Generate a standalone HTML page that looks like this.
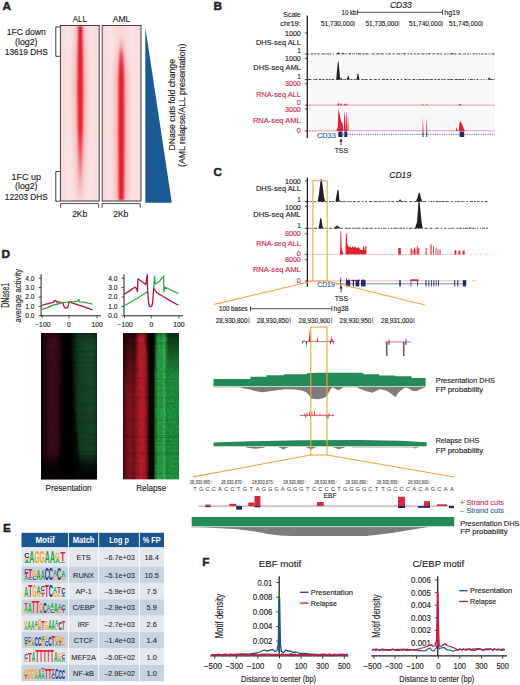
<!DOCTYPE html>
<html><head><meta charset="utf-8"><style>
html,body{margin:0;padding:0;background:#fff;}
svg{display:block;}
text{font-family:"Liberation Sans", sans-serif;}
</style></head><body>
<svg width="520" height="685" viewBox="0 0 520 685" font-family="Liberation Sans, sans-serif">
<rect width="520" height="685" fill="#fff"/>
<text x="2.60" y="9.80" font-size="11.8" font-weight="bold" stroke="#231f20" stroke-width="0.45" fill="#231f20">A</text>
<text x="79.80" y="21.81" font-size="8.5" text-anchor="middle" textLength="14" lengthAdjust="spacingAndGlyphs" stroke="#231f20" stroke-width="0.14" fill="#231f20">ALL</text>
<text x="121.50" y="21.81" font-size="8.5" text-anchor="middle" textLength="17.5" lengthAdjust="spacingAndGlyphs" stroke="#231f20" stroke-width="0.14" fill="#231f20">AML</text>
<defs>
<linearGradient id="bgA" x1="0" x2="1" y1="0" y2="0">
<stop offset="0" stop-color="#f8d8d8"/><stop offset="0.22" stop-color="#fbe3e3"/><stop offset="0.5" stop-color="#f8d6d6"/><stop offset="0.78" stop-color="#fbe3e3"/><stop offset="1" stop-color="#f8d8d8"/>
</linearGradient>
<linearGradient id="fadeAll" x1="0" x2="0" y1="0" y2="1">
<stop offset="0" stop-color="#c01828"/><stop offset="0.1" stop-color="#d81c2a"/><stop offset="0.3" stop-color="#e6202c"/><stop offset="0.6" stop-color="#e6202c"/><stop offset="0.75" stop-color="#ea5a64" /><stop offset="0.9" stop-color="#f2a0a8" /><stop offset="1" stop-color="#f7d0d3"/>
</linearGradient>
<linearGradient id="fadeAml" x1="0" x2="0" y1="0" y2="1">
<stop offset="0" stop-color="#f7d0d3"/><stop offset="0.05" stop-color="#f0a0a8"/><stop offset="0.12" stop-color="#e64050"/><stop offset="0.2" stop-color="#e4202e"/><stop offset="1" stop-color="#e41e2c"/>
</linearGradient>
<filter id="blur05" x="-50%" y="-5%" width="200%" height="110%"><feGaussianBlur stdDeviation="0.8"/></filter>
<filter id="blur1"><feGaussianBlur stdDeviation="0.8"/></filter>
<filter id="blur2" x="-100%" y="-10%" width="300%" height="120%"><feGaussianBlur stdDeviation="2.5"/></filter>
</defs>
<rect x="60.40" y="25.50" width="38.80" height="175.50" fill="url(#bgA)"/>
<rect x="102.20" y="25.50" width="38.80" height="175.50" fill="url(#bgA)"/>
<polygon points="85.24,26.00 87.06,60.00 88.10,90.00 86.80,129.00 85.50,150.00 84.20,169.00 82.64,185.00 81.60,193.00 80.82,198.00 79.78,198.00 79.00,193.00 77.96,185.00 76.40,169.00 75.10,150.00 73.80,129.00 72.50,90.00 73.54,60.00 75.36,26.00" fill="#e8404c" stroke="none" stroke-width="1" opacity="0.22" filter="url(#blur2)"/>
<polygon points="121.82,36.00 123.38,45.00 124.94,52.00 127.54,65.00 128.84,80.00 129.10,129.00 128.58,170.00 128.06,200.00 114.54,200.00 114.02,170.00 113.50,129.00 113.76,80.00 115.06,65.00 117.66,52.00 119.22,45.00 120.78,36.00" fill="#e8404c" stroke="none" stroke-width="1" opacity="0.22" filter="url(#blur2)"/>
<polygon points="82.20,26.00 82.90,60.00 83.30,90.00 82.80,129.00 82.30,150.00 81.80,169.00 81.20,185.00 80.80,193.00 80.50,198.00 80.10,198.00 79.80,193.00 79.40,185.00 78.80,169.00 78.30,150.00 77.80,129.00 77.30,90.00 77.70,60.00 78.40,26.00" fill="url(#fadeAll)" stroke="none" stroke-width="1" filter="url(#blur05)"/>
<polygon points="121.50,36.00 122.10,45.00 122.70,52.00 123.70,65.00 124.20,80.00 124.30,129.00 124.10,170.00 123.90,200.00 118.70,200.00 118.50,170.00 118.30,129.00 118.40,80.00 118.90,65.00 119.90,52.00 120.50,45.00 121.10,36.00" fill="url(#fadeAml)" stroke="none" stroke-width="1" filter="url(#blur05)"/>
<rect x="60.40" y="25.5" width="38.8" height="175.5" fill="none" stroke="#463f40" stroke-width="1"/>
<rect x="102.20" y="25.5" width="38.8" height="175.5" fill="none" stroke="#463f40" stroke-width="1"/>
<polyline points="60.60,207.80 60.60,203.60 98.60,203.60 98.60,207.80" fill="none" stroke="#231f20" stroke-width="0.8" stroke-linejoin="round"/>
<polyline points="102.00,207.80 102.00,203.60 140.20,203.60 140.20,207.80" fill="none" stroke="#231f20" stroke-width="0.8" stroke-linejoin="round"/>
<text x="79.70" y="216.62" font-size="8.4" text-anchor="middle" textLength="15" lengthAdjust="spacingAndGlyphs" stroke="#231f20" stroke-width="0.14" fill="#231f20">2Kb</text>
<text x="120.80" y="216.62" font-size="8.4" text-anchor="middle" textLength="15" lengthAdjust="spacingAndGlyphs" stroke="#231f20" stroke-width="0.14" fill="#231f20">2Kb</text>
<polyline points="59.80,26.90 55.80,26.90 55.80,56.30 59.80,56.30" fill="none" stroke="#231f20" stroke-width="0.9" stroke-linejoin="round"/>
<polyline points="59.80,171.50 55.80,171.50 55.80,201.20 59.80,201.20" fill="none" stroke="#231f20" stroke-width="0.9" stroke-linejoin="round"/>
<text x="26.30" y="34.69" font-size="8.3" text-anchor="middle" textLength="39.1" lengthAdjust="spacingAndGlyphs" stroke="#231f20" stroke-width="0.14" fill="#231f20">1FC down</text>
<text x="26.30" y="44.99" font-size="8.3" text-anchor="middle" textLength="22.5" lengthAdjust="spacingAndGlyphs" stroke="#231f20" stroke-width="0.14" fill="#231f20">(log2)</text>
<text x="26.30" y="54.99" font-size="8.3" text-anchor="middle" textLength="42.9" lengthAdjust="spacingAndGlyphs" stroke="#231f20" stroke-width="0.14" fill="#231f20">13619 DHS</text>
<text x="26.30" y="179.99" font-size="8.3" text-anchor="middle" textLength="29.5" lengthAdjust="spacingAndGlyphs" stroke="#231f20" stroke-width="0.14" fill="#231f20">1FC up</text>
<text x="26.30" y="189.49" font-size="8.3" text-anchor="middle" textLength="22.5" lengthAdjust="spacingAndGlyphs" stroke="#231f20" stroke-width="0.14" fill="#231f20">(log2)</text>
<text x="26.30" y="199.99" font-size="8.3" text-anchor="middle" textLength="42.9" lengthAdjust="spacingAndGlyphs" stroke="#231f20" stroke-width="0.14" fill="#231f20">12203 DHS</text>
<polygon points="145.30,27.00 145.30,202.80 171.80,202.80" fill="#1b5a94" stroke="none" stroke-width="1"/>
<text transform="translate(172.50,104.80) rotate(-90)" x="0" y="2.95" font-size="8.2" text-anchor="middle" textLength="91.5" lengthAdjust="spacingAndGlyphs" stroke="#231f20" stroke-width="0.14" fill="#231f20">DNase cuts fold change</text>
<text transform="translate(182.30,105.30) rotate(-90)" x="0" y="2.95" font-size="8.2" text-anchor="middle" textLength="123.4" lengthAdjust="spacingAndGlyphs" stroke="#231f20" stroke-width="0.14" fill="#231f20">(AML relapse/ALL presentation)</text>
<text x="213.60" y="9.80" font-size="11.8" font-weight="bold" stroke="#231f20" stroke-width="0.45" fill="#231f20">B</text>
<text x="300.80" y="16.93" font-size="7.3" text-anchor="end" textLength="17.6" lengthAdjust="spacingAndGlyphs" stroke="#231f20" stroke-width="0.14" fill="#231f20">Scale</text>
<text x="300.80" y="25.93" font-size="7.3" text-anchor="end" textLength="20.6" lengthAdjust="spacingAndGlyphs" stroke="#231f20" stroke-width="0.14" fill="#231f20">chr19:</text>
<text x="300.80" y="35.56" font-size="7.1" text-anchor="end" stroke="#231f20" stroke-width="0.14" fill="#231f20">1000</text>
<text x="300.80" y="44.93" font-size="7.3" text-anchor="end" textLength="44.8" lengthAdjust="spacingAndGlyphs" stroke="#231f20" stroke-width="0.14" fill="#231f20">DHS-seq ALL</text>
<text x="300.80" y="53.47" font-size="6.3" text-anchor="end" stroke="#231f20" stroke-width="0.14" fill="#231f20">1</text>
<text x="300.80" y="61.06" font-size="7.1" text-anchor="end" stroke="#231f20" stroke-width="0.14" fill="#231f20">1000</text>
<text x="300.80" y="69.63" font-size="7.3" text-anchor="end" textLength="47.5" lengthAdjust="spacingAndGlyphs" stroke="#231f20" stroke-width="0.14" fill="#231f20">DHS-seq AML</text>
<text x="300.80" y="79.07" font-size="6.3" text-anchor="end" stroke="#231f20" stroke-width="0.14" fill="#231f20">1</text>
<text x="300.80" y="86.36" font-size="7.1" text-anchor="end" stroke="#c92a4e" stroke-width="0.14" fill="#c92a4e">3000</text>
<text x="300.80" y="97.13" font-size="7.3" text-anchor="end" textLength="44.6" lengthAdjust="spacingAndGlyphs" stroke="#c92a4e" stroke-width="0.14" fill="#c92a4e">RNA-seq ALL</text>
<text x="300.80" y="105.06" font-size="7.1" text-anchor="end" stroke="#c92a4e" stroke-width="0.14" fill="#c92a4e">0</text>
<text x="300.80" y="111.56" font-size="7.1" text-anchor="end" stroke="#c92a4e" stroke-width="0.14" fill="#c92a4e">3000</text>
<text x="300.80" y="122.63" font-size="7.3" text-anchor="end" textLength="47.9" lengthAdjust="spacingAndGlyphs" stroke="#c92a4e" stroke-width="0.14" fill="#c92a4e">RNA-seq AML</text>
<text x="300.80" y="133.26" font-size="7.1" text-anchor="end" stroke="#c92a4e" stroke-width="0.14" fill="#c92a4e">0</text>
<rect x="308.00" y="54.00" width="187.00" height="77.00" fill="#f7f7f7"/>
<line x1="307.30" y1="15.60" x2="307.30" y2="138.00" stroke="#231f20" stroke-width="1.3"/>
<line x1="304.80" y1="33.00" x2="307.20" y2="33.00" stroke="#231f20" stroke-width="0.8"/>
<line x1="304.80" y1="54.10" x2="307.20" y2="54.10" stroke="#231f20" stroke-width="0.8"/>
<line x1="304.80" y1="58.30" x2="307.20" y2="58.30" stroke="#231f20" stroke-width="0.8"/>
<line x1="304.80" y1="79.60" x2="307.20" y2="79.60" stroke="#231f20" stroke-width="0.8"/>
<line x1="304.80" y1="83.80" x2="307.20" y2="83.80" stroke="#231f20" stroke-width="0.8"/>
<line x1="304.80" y1="105.20" x2="307.20" y2="105.20" stroke="#231f20" stroke-width="0.8"/>
<line x1="304.80" y1="109.00" x2="307.20" y2="109.00" stroke="#231f20" stroke-width="0.8"/>
<line x1="304.80" y1="131.00" x2="307.20" y2="131.00" stroke="#231f20" stroke-width="0.8"/>
<text x="400.80" y="8.10" font-size="8.6" text-anchor="middle" font-style="italic" textLength="21.8" lengthAdjust="spacingAndGlyphs" stroke="#231f20" stroke-width="0.14" fill="#231f20">CD33</text>
<text x="341.50" y="14.57" font-size="6.3" textLength="15" lengthAdjust="spacingAndGlyphs" stroke="#231f20" stroke-width="0.14" fill="#231f20">10 kb</text>
<line x1="357.50" y1="12.30" x2="442.50" y2="12.30" stroke="#231f20" stroke-width="0.8"/>
<line x1="357.50" y1="9.80" x2="357.50" y2="14.80" stroke="#231f20" stroke-width="0.8"/>
<line x1="442.50" y1="9.80" x2="442.50" y2="14.80" stroke="#231f20" stroke-width="0.8"/>
<text x="444.30" y="14.57" font-size="6.3" textLength="15.5" lengthAdjust="spacingAndGlyphs" stroke="#231f20" stroke-width="0.14" fill="#231f20">hg19</text>
<text x="321.00" y="26.18" font-size="6.9" textLength="32.5" lengthAdjust="spacingAndGlyphs" stroke="#231f20" stroke-width="0.14" fill="#231f20">51,730,000</text>
<line x1="354.30" y1="21.00" x2="354.30" y2="26.40" stroke="#777" stroke-width="0.9"/>
<text x="365.50" y="26.18" font-size="6.9" textLength="32.5" lengthAdjust="spacingAndGlyphs" stroke="#231f20" stroke-width="0.14" fill="#231f20">51,735,000</text>
<line x1="398.80" y1="21.00" x2="398.80" y2="26.40" stroke="#777" stroke-width="0.9"/>
<text x="409.00" y="26.18" font-size="6.9" textLength="32.5" lengthAdjust="spacingAndGlyphs" stroke="#231f20" stroke-width="0.14" fill="#231f20">51,740,000</text>
<line x1="442.30" y1="21.00" x2="442.30" y2="26.40" stroke="#777" stroke-width="0.9"/>
<text x="449.00" y="26.18" font-size="6.9" textLength="32.5" lengthAdjust="spacingAndGlyphs" stroke="#231f20" stroke-width="0.14" fill="#231f20">51,745,000</text>
<line x1="482.30" y1="21.00" x2="482.30" y2="26.40" stroke="#777" stroke-width="0.9"/>
<line x1="308.00" y1="53.90" x2="308.90" y2="53.90" stroke="#231f20" stroke-width="0.8"/>
<line x1="310.64" y1="53.90" x2="313.44" y2="53.90" stroke="#231f20" stroke-width="0.8"/>
<line x1="314.17" y1="53.90" x2="316.15" y2="53.90" stroke="#231f20" stroke-width="0.8"/>
<line x1="317.22" y1="53.90" x2="319.67" y2="53.90" stroke="#231f20" stroke-width="0.8"/>
<line x1="321.31" y1="53.90" x2="322.10" y2="53.90" stroke="#231f20" stroke-width="0.8"/>
<line x1="322.44" y1="53.90" x2="325.45" y2="53.90" stroke="#231f20" stroke-width="0.8"/>
<line x1="326.49" y1="53.90" x2="329.27" y2="53.90" stroke="#231f20" stroke-width="0.8"/>
<line x1="329.58" y1="53.90" x2="331.41" y2="53.90" stroke="#231f20" stroke-width="0.8"/>
<line x1="332.94" y1="53.90" x2="334.13" y2="53.90" stroke="#231f20" stroke-width="0.8"/>
<line x1="336.03" y1="53.90" x2="339.24" y2="53.90" stroke="#231f20" stroke-width="0.8"/>
<line x1="339.59" y1="53.90" x2="340.17" y2="53.90" stroke="#231f20" stroke-width="0.8"/>
<line x1="341.39" y1="53.90" x2="344.70" y2="53.90" stroke="#231f20" stroke-width="0.8"/>
<line x1="345.65" y1="53.90" x2="346.80" y2="53.90" stroke="#231f20" stroke-width="0.8"/>
<line x1="347.82" y1="53.90" x2="348.41" y2="53.90" stroke="#231f20" stroke-width="0.8"/>
<line x1="349.08" y1="53.90" x2="350.90" y2="53.90" stroke="#231f20" stroke-width="0.8"/>
<line x1="352.04" y1="53.90" x2="353.24" y2="53.90" stroke="#231f20" stroke-width="0.8"/>
<line x1="353.93" y1="53.90" x2="355.09" y2="53.90" stroke="#231f20" stroke-width="0.8"/>
<line x1="356.17" y1="53.90" x2="357.54" y2="53.90" stroke="#231f20" stroke-width="0.8"/>
<line x1="357.88" y1="53.90" x2="360.89" y2="53.90" stroke="#231f20" stroke-width="0.8"/>
<line x1="362.13" y1="53.90" x2="364.56" y2="53.90" stroke="#231f20" stroke-width="0.8"/>
<line x1="365.18" y1="53.90" x2="368.65" y2="53.90" stroke="#231f20" stroke-width="0.8"/>
<line x1="370.42" y1="53.90" x2="371.28" y2="53.90" stroke="#231f20" stroke-width="0.8"/>
<line x1="372.15" y1="53.90" x2="374.81" y2="53.90" stroke="#231f20" stroke-width="0.8"/>
<line x1="376.32" y1="53.90" x2="379.63" y2="53.90" stroke="#231f20" stroke-width="0.8"/>
<line x1="380.65" y1="53.90" x2="383.64" y2="53.90" stroke="#231f20" stroke-width="0.8"/>
<line x1="385.08" y1="53.90" x2="386.49" y2="53.90" stroke="#231f20" stroke-width="0.8"/>
<line x1="387.78" y1="53.90" x2="390.93" y2="53.90" stroke="#231f20" stroke-width="0.8"/>
<line x1="392.67" y1="53.90" x2="394.69" y2="53.90" stroke="#231f20" stroke-width="0.8"/>
<line x1="395.99" y1="53.90" x2="396.59" y2="53.90" stroke="#231f20" stroke-width="0.8"/>
<line x1="397.30" y1="53.90" x2="400.20" y2="53.90" stroke="#231f20" stroke-width="0.8"/>
<line x1="401.20" y1="53.90" x2="402.22" y2="53.90" stroke="#231f20" stroke-width="0.8"/>
<line x1="403.45" y1="53.90" x2="406.06" y2="53.90" stroke="#231f20" stroke-width="0.8"/>
<line x1="407.51" y1="53.90" x2="409.13" y2="53.90" stroke="#231f20" stroke-width="0.8"/>
<line x1="410.18" y1="53.90" x2="412.20" y2="53.90" stroke="#231f20" stroke-width="0.8"/>
<line x1="413.83" y1="53.90" x2="415.89" y2="53.90" stroke="#231f20" stroke-width="0.8"/>
<line x1="416.86" y1="53.90" x2="418.83" y2="53.90" stroke="#231f20" stroke-width="0.8"/>
<line x1="419.18" y1="53.90" x2="419.81" y2="53.90" stroke="#231f20" stroke-width="0.8"/>
<line x1="421.30" y1="53.90" x2="424.75" y2="53.90" stroke="#231f20" stroke-width="0.8"/>
<line x1="426.06" y1="53.90" x2="427.74" y2="53.90" stroke="#231f20" stroke-width="0.8"/>
<line x1="428.33" y1="53.90" x2="430.34" y2="53.90" stroke="#231f20" stroke-width="0.8"/>
<line x1="432.31" y1="53.90" x2="435.12" y2="53.90" stroke="#231f20" stroke-width="0.8"/>
<line x1="436.34" y1="53.90" x2="439.42" y2="53.90" stroke="#231f20" stroke-width="0.8"/>
<line x1="440.11" y1="53.90" x2="442.15" y2="53.90" stroke="#231f20" stroke-width="0.8"/>
<line x1="444.07" y1="53.90" x2="446.31" y2="53.90" stroke="#231f20" stroke-width="0.8"/>
<line x1="447.39" y1="53.90" x2="448.69" y2="53.90" stroke="#231f20" stroke-width="0.8"/>
<line x1="449.93" y1="53.90" x2="453.30" y2="53.90" stroke="#231f20" stroke-width="0.8"/>
<line x1="453.61" y1="53.90" x2="456.46" y2="53.90" stroke="#231f20" stroke-width="0.8"/>
<line x1="458.15" y1="53.90" x2="461.31" y2="53.90" stroke="#231f20" stroke-width="0.8"/>
<line x1="462.87" y1="53.90" x2="465.80" y2="53.90" stroke="#231f20" stroke-width="0.8"/>
<line x1="466.98" y1="53.90" x2="469.16" y2="53.90" stroke="#231f20" stroke-width="0.8"/>
<line x1="470.19" y1="53.90" x2="470.86" y2="53.90" stroke="#231f20" stroke-width="0.8"/>
<line x1="472.64" y1="53.90" x2="474.85" y2="53.90" stroke="#231f20" stroke-width="0.8"/>
<line x1="475.49" y1="53.90" x2="477.50" y2="53.90" stroke="#231f20" stroke-width="0.8"/>
<line x1="478.62" y1="53.90" x2="480.19" y2="53.90" stroke="#231f20" stroke-width="0.8"/>
<line x1="481.08" y1="53.90" x2="483.20" y2="53.90" stroke="#231f20" stroke-width="0.8"/>
<line x1="484.56" y1="53.90" x2="486.90" y2="53.90" stroke="#231f20" stroke-width="0.8"/>
<line x1="487.97" y1="53.90" x2="488.56" y2="53.90" stroke="#231f20" stroke-width="0.8"/>
<line x1="489.25" y1="53.90" x2="490.28" y2="53.90" stroke="#231f20" stroke-width="0.8"/>
<line x1="491.57" y1="53.90" x2="494.66" y2="53.90" stroke="#231f20" stroke-width="0.8"/>
<polygon points="337.00,53.90 338.12,52.62 338.50,52.40 338.88,52.62 340.00,53.90" fill="#231f20" stroke="none" stroke-width="1"/>
<polygon points="342.00,53.90 342.75,53.13 343.00,53.00 343.25,53.13 344.00,53.90" fill="#231f20" stroke="none" stroke-width="1"/>
<polygon points="349.00,53.90 349.75,53.13 350.00,53.00 350.25,53.13 351.00,53.90" fill="#231f20" stroke="none" stroke-width="1"/>
<polygon points="359.00,53.90 359.75,53.30 360.00,53.20 360.25,53.30 361.00,53.90" fill="#231f20" stroke="none" stroke-width="1"/>
<polygon points="403.00,53.90 403.75,53.30 404.00,53.20 404.25,53.30 405.00,53.90" fill="#231f20" stroke="none" stroke-width="1"/>
<polygon points="429.00,53.90 429.75,53.30 430.00,53.20 430.25,53.30 431.00,53.90" fill="#231f20" stroke="none" stroke-width="1"/>
<polygon points="451.00,53.90 451.75,53.30 452.00,53.20 452.25,53.30 453.00,53.90" fill="#231f20" stroke="none" stroke-width="1"/>
<line x1="308.00" y1="79.50" x2="311.37" y2="79.50" stroke="#231f20" stroke-width="0.8"/>
<line x1="313.28" y1="79.50" x2="313.95" y2="79.50" stroke="#231f20" stroke-width="0.8"/>
<line x1="314.39" y1="79.50" x2="317.40" y2="79.50" stroke="#231f20" stroke-width="0.8"/>
<line x1="318.95" y1="79.50" x2="321.46" y2="79.50" stroke="#231f20" stroke-width="0.8"/>
<line x1="322.28" y1="79.50" x2="324.60" y2="79.50" stroke="#231f20" stroke-width="0.8"/>
<line x1="325.93" y1="79.50" x2="328.18" y2="79.50" stroke="#231f20" stroke-width="0.8"/>
<line x1="328.75" y1="79.50" x2="330.54" y2="79.50" stroke="#231f20" stroke-width="0.8"/>
<line x1="331.51" y1="79.50" x2="334.18" y2="79.50" stroke="#231f20" stroke-width="0.8"/>
<line x1="336.17" y1="79.50" x2="339.52" y2="79.50" stroke="#231f20" stroke-width="0.8"/>
<line x1="340.74" y1="79.50" x2="342.58" y2="79.50" stroke="#231f20" stroke-width="0.8"/>
<line x1="343.33" y1="79.50" x2="343.94" y2="79.50" stroke="#231f20" stroke-width="0.8"/>
<line x1="344.29" y1="79.50" x2="346.18" y2="79.50" stroke="#231f20" stroke-width="0.8"/>
<line x1="347.02" y1="79.50" x2="348.66" y2="79.50" stroke="#231f20" stroke-width="0.8"/>
<line x1="350.48" y1="79.50" x2="352.56" y2="79.50" stroke="#231f20" stroke-width="0.8"/>
<line x1="353.81" y1="79.50" x2="355.02" y2="79.50" stroke="#231f20" stroke-width="0.8"/>
<line x1="355.36" y1="79.50" x2="356.83" y2="79.50" stroke="#231f20" stroke-width="0.8"/>
<line x1="357.36" y1="79.50" x2="359.40" y2="79.50" stroke="#231f20" stroke-width="0.8"/>
<line x1="361.39" y1="79.50" x2="363.92" y2="79.50" stroke="#231f20" stroke-width="0.8"/>
<line x1="364.53" y1="79.50" x2="367.71" y2="79.50" stroke="#231f20" stroke-width="0.8"/>
<line x1="369.36" y1="79.50" x2="372.06" y2="79.50" stroke="#231f20" stroke-width="0.8"/>
<line x1="373.91" y1="79.50" x2="376.69" y2="79.50" stroke="#231f20" stroke-width="0.8"/>
<line x1="378.34" y1="79.50" x2="379.90" y2="79.50" stroke="#231f20" stroke-width="0.8"/>
<line x1="381.87" y1="79.50" x2="385.25" y2="79.50" stroke="#231f20" stroke-width="0.8"/>
<line x1="385.83" y1="79.50" x2="388.59" y2="79.50" stroke="#231f20" stroke-width="0.8"/>
<line x1="390.10" y1="79.50" x2="391.99" y2="79.50" stroke="#231f20" stroke-width="0.8"/>
<line x1="393.19" y1="79.50" x2="395.16" y2="79.50" stroke="#231f20" stroke-width="0.8"/>
<line x1="397.03" y1="79.50" x2="399.03" y2="79.50" stroke="#231f20" stroke-width="0.8"/>
<line x1="400.75" y1="79.50" x2="402.31" y2="79.50" stroke="#231f20" stroke-width="0.8"/>
<line x1="404.11" y1="79.50" x2="407.31" y2="79.50" stroke="#231f20" stroke-width="0.8"/>
<line x1="408.39" y1="79.50" x2="410.60" y2="79.50" stroke="#231f20" stroke-width="0.8"/>
<line x1="412.46" y1="79.50" x2="415.13" y2="79.50" stroke="#231f20" stroke-width="0.8"/>
<line x1="416.26" y1="79.50" x2="417.42" y2="79.50" stroke="#231f20" stroke-width="0.8"/>
<line x1="418.28" y1="79.50" x2="420.88" y2="79.50" stroke="#231f20" stroke-width="0.8"/>
<line x1="421.46" y1="79.50" x2="424.68" y2="79.50" stroke="#231f20" stroke-width="0.8"/>
<line x1="425.44" y1="79.50" x2="428.67" y2="79.50" stroke="#231f20" stroke-width="0.8"/>
<line x1="429.50" y1="79.50" x2="432.87" y2="79.50" stroke="#231f20" stroke-width="0.8"/>
<line x1="434.37" y1="79.50" x2="436.38" y2="79.50" stroke="#231f20" stroke-width="0.8"/>
<line x1="437.56" y1="79.50" x2="440.02" y2="79.50" stroke="#231f20" stroke-width="0.8"/>
<line x1="441.32" y1="79.50" x2="442.75" y2="79.50" stroke="#231f20" stroke-width="0.8"/>
<line x1="443.41" y1="79.50" x2="445.44" y2="79.50" stroke="#231f20" stroke-width="0.8"/>
<line x1="447.33" y1="79.50" x2="449.70" y2="79.50" stroke="#231f20" stroke-width="0.8"/>
<line x1="450.13" y1="79.50" x2="453.09" y2="79.50" stroke="#231f20" stroke-width="0.8"/>
<line x1="454.62" y1="79.50" x2="457.85" y2="79.50" stroke="#231f20" stroke-width="0.8"/>
<line x1="458.47" y1="79.50" x2="461.21" y2="79.50" stroke="#231f20" stroke-width="0.8"/>
<line x1="461.61" y1="79.50" x2="464.06" y2="79.50" stroke="#231f20" stroke-width="0.8"/>
<line x1="464.83" y1="79.50" x2="466.01" y2="79.50" stroke="#231f20" stroke-width="0.8"/>
<line x1="467.80" y1="79.50" x2="468.62" y2="79.50" stroke="#231f20" stroke-width="0.8"/>
<line x1="469.80" y1="79.50" x2="472.87" y2="79.50" stroke="#231f20" stroke-width="0.8"/>
<line x1="473.58" y1="79.50" x2="474.71" y2="79.50" stroke="#231f20" stroke-width="0.8"/>
<line x1="476.51" y1="79.50" x2="478.28" y2="79.50" stroke="#231f20" stroke-width="0.8"/>
<line x1="479.80" y1="79.50" x2="480.39" y2="79.50" stroke="#231f20" stroke-width="0.8"/>
<line x1="481.31" y1="79.50" x2="482.32" y2="79.50" stroke="#231f20" stroke-width="0.8"/>
<line x1="483.77" y1="79.50" x2="484.52" y2="79.50" stroke="#231f20" stroke-width="0.8"/>
<line x1="486.44" y1="79.50" x2="487.02" y2="79.50" stroke="#231f20" stroke-width="0.8"/>
<line x1="488.56" y1="79.50" x2="489.12" y2="79.50" stroke="#231f20" stroke-width="0.8"/>
<line x1="489.85" y1="79.50" x2="492.79" y2="79.50" stroke="#231f20" stroke-width="0.8"/>
<line x1="493.36" y1="79.50" x2="494.41" y2="79.50" stroke="#231f20" stroke-width="0.8"/>
<polygon points="336.20,79.60 337.70,63.28 338.20,60.40 338.70,63.28 340.20,79.60" fill="#231f20" stroke="none" stroke-width="1"/>
<polygon points="340.00,79.60 340.75,77.81 341.00,77.50 341.25,77.81 342.00,79.60" fill="#231f20" stroke="none" stroke-width="1"/>
<polygon points="346.80,79.60 347.93,76.20 348.30,75.60 348.68,76.20 349.80,79.60" fill="#231f20" stroke="none" stroke-width="1"/>
<polygon points="356.50,79.60 357.62,74.24 358.00,73.30 358.38,74.24 359.50,79.60" fill="#231f20" stroke="none" stroke-width="1"/>
<polygon points="487.70,79.60 488.82,77.64 489.20,77.30 489.57,77.64 490.70,79.60" fill="#231f20" stroke="none" stroke-width="1"/>
<line x1="308.00" y1="105.10" x2="495.00" y2="105.10" stroke="#d9566c" stroke-width="0.55"/>
<polygon points="337.30,105.20 338.20,103.16 338.50,102.80 338.80,103.16 339.70,105.20" fill="#e3202d" stroke="none" stroke-width="1"/>
<polygon points="340.00,105.20 340.75,103.50 341.00,103.20 341.25,103.50 342.00,105.20" fill="#e3202d" stroke="none" stroke-width="1"/>
<polygon points="343.50,105.20 344.25,103.67 344.50,103.40 344.75,103.67 345.50,105.20" fill="#e3202d" stroke="none" stroke-width="1"/>
<polygon points="345.50,105.20 346.25,103.67 346.50,103.40 346.75,103.67 347.50,105.20" fill="#e3202d" stroke="none" stroke-width="1"/>
<line x1="308.00" y1="130.90" x2="495.00" y2="130.90" stroke="#d9566c" stroke-width="0.55"/>
<polygon points="336.50,131.00 337.80,127.00 338.40,108.50 339.50,113.00 341.00,121.00 342.60,124.00 343.30,131.00" fill="#e3202d" stroke="none" stroke-width="1"/>
<polygon points="343.80,131.00 344.30,111.20 345.20,118.00 345.80,131.00" fill="#e3202d" stroke="none" stroke-width="1"/>
<polygon points="346.00,131.00 346.40,111.30 347.20,118.00 347.60,131.00" fill="#e3202d" stroke="none" stroke-width="1"/>
<polygon points="347.90,131.00 348.30,115.00 349.20,131.00" fill="#e58a95" stroke="none" stroke-width="1"/>
<polygon points="422.40,131.00 422.90,117.00 423.40,131.00" fill="#e3202d" stroke="none" stroke-width="1"/>
<polygon points="426.20,131.00 426.70,117.00 427.20,131.00" fill="#e3202d" stroke="none" stroke-width="1"/>
<polygon points="455.80,131.00 456.50,127.00 457.40,131.00" fill="#e3202d" stroke="none" stroke-width="1"/>
<polygon points="458.60,131.00 459.60,122.50 460.40,121.20 461.60,123.00 463.50,128.00 465.00,131.00" fill="#e3202d" stroke="none" stroke-width="1"/>
<line x1="338" y1="134.3" x2="495" y2="134.3" stroke="#2a5ea8" stroke-width="0.8" stroke-dasharray="1.4 0.9"/>
<rect x="338.30" y="131.50" width="4.20" height="5.50" fill="#1f2a6e"/>
<rect x="344.30" y="131.50" width="3.00" height="5.50" fill="#1f2a6e"/>
<rect x="422.50" y="131.50" width="1.00" height="5.50" fill="#1f2a6e"/>
<rect x="426.20" y="131.50" width="1.00" height="5.50" fill="#1f2a6e"/>
<rect x="459.60" y="131.50" width="4.60" height="5.50" fill="#1f2a6e"/>
<text x="317.00" y="137.63" font-size="7.3" textLength="18.8" lengthAdjust="spacingAndGlyphs" stroke="#2a5ea8" stroke-width="0.14" fill="#2a5ea8">CD33</text>
<line x1="341.00" y1="145.50" x2="341.00" y2="140.50" stroke="#231f20" stroke-width="0.8"/>
<polygon points="339.30,141.60 341.00,138.60 342.70,141.60" fill="#231f20" stroke="none" stroke-width="1"/>
<text x="341.30" y="152.88" font-size="8.0" text-anchor="middle" textLength="13.3" lengthAdjust="spacingAndGlyphs" stroke="#231f20" stroke-width="0.14" fill="#231f20">TSS</text>
<polygon points="422.20,105.20 422.80,104.18 423.00,104.00 423.20,104.18 423.80,105.20" fill="#e3202d" stroke="none" stroke-width="1"/>
<polygon points="425.90,105.20 426.50,104.18 426.70,104.00 426.90,104.18 427.50,105.20" fill="#e3202d" stroke="none" stroke-width="1"/>
<polygon points="458.40,105.20 459.60,104.01 460.00,103.80 460.40,104.01 461.60,105.20" fill="#e3202d" stroke="none" stroke-width="1"/>
<text x="213.40" y="176.40" font-size="11.8" font-weight="bold" stroke="#231f20" stroke-width="0.45" fill="#231f20">C</text>
<text x="300.80" y="183.76" font-size="7.1" text-anchor="end" stroke="#231f20" stroke-width="0.14" fill="#231f20">1000</text>
<text x="300.80" y="190.63" font-size="7.3" text-anchor="end" textLength="44.8" lengthAdjust="spacingAndGlyphs" stroke="#231f20" stroke-width="0.14" fill="#231f20">DHS-seq ALL</text>
<text x="300.80" y="201.87" font-size="6.3" text-anchor="end" stroke="#231f20" stroke-width="0.14" fill="#231f20">1</text>
<text x="300.80" y="209.66" font-size="7.1" text-anchor="end" stroke="#231f20" stroke-width="0.14" fill="#231f20">1000</text>
<text x="300.80" y="217.43" font-size="7.3" text-anchor="end" textLength="47.5" lengthAdjust="spacingAndGlyphs" stroke="#231f20" stroke-width="0.14" fill="#231f20">DHS-seq AML</text>
<text x="300.80" y="228.17" font-size="6.3" text-anchor="end" stroke="#231f20" stroke-width="0.14" fill="#231f20">1</text>
<text x="300.80" y="236.16" font-size="7.1" text-anchor="end" stroke="#c92a4e" stroke-width="0.14" fill="#c92a4e">8000</text>
<text x="300.80" y="245.83" font-size="7.3" text-anchor="end" textLength="44.6" lengthAdjust="spacingAndGlyphs" stroke="#c92a4e" stroke-width="0.14" fill="#c92a4e">RNA-seq ALL</text>
<text x="300.80" y="255.86" font-size="7.1" text-anchor="end" stroke="#c92a4e" stroke-width="0.14" fill="#c92a4e">0</text>
<text x="300.80" y="262.36" font-size="7.1" text-anchor="end" stroke="#c92a4e" stroke-width="0.14" fill="#c92a4e">8000</text>
<text x="300.80" y="272.43" font-size="7.3" text-anchor="end" textLength="47.9" lengthAdjust="spacingAndGlyphs" stroke="#c92a4e" stroke-width="0.14" fill="#c92a4e">RNA-seq AML</text>
<text x="300.80" y="282.86" font-size="7.1" text-anchor="end" stroke="#c92a4e" stroke-width="0.14" fill="#c92a4e">0</text>
<line x1="307.40" y1="177.50" x2="307.40" y2="286.80" stroke="#231f20" stroke-width="1.3"/>
<line x1="304.90" y1="181.00" x2="307.30" y2="181.00" stroke="#231f20" stroke-width="0.8"/>
<line x1="304.90" y1="201.60" x2="307.30" y2="201.60" stroke="#231f20" stroke-width="0.8"/>
<line x1="304.90" y1="206.30" x2="307.30" y2="206.30" stroke="#231f20" stroke-width="0.8"/>
<line x1="304.90" y1="228.30" x2="307.30" y2="228.30" stroke="#231f20" stroke-width="0.8"/>
<line x1="304.90" y1="233.80" x2="307.30" y2="233.80" stroke="#231f20" stroke-width="0.8"/>
<line x1="304.90" y1="254.40" x2="307.30" y2="254.40" stroke="#231f20" stroke-width="0.8"/>
<line x1="304.90" y1="259.70" x2="307.30" y2="259.70" stroke="#231f20" stroke-width="0.8"/>
<line x1="304.90" y1="281.00" x2="307.30" y2="281.00" stroke="#231f20" stroke-width="0.8"/>
<text x="400.20" y="177.50" font-size="8.6" text-anchor="middle" font-style="italic" textLength="22" lengthAdjust="spacingAndGlyphs" stroke="#231f20" stroke-width="0.14" fill="#231f20">CD19</text>
<line x1="308.00" y1="201.60" x2="309.21" y2="201.60" stroke="#231f20" stroke-width="0.8"/>
<line x1="310.44" y1="201.60" x2="312.05" y2="201.60" stroke="#231f20" stroke-width="0.8"/>
<line x1="313.38" y1="201.60" x2="315.75" y2="201.60" stroke="#231f20" stroke-width="0.8"/>
<line x1="316.16" y1="201.60" x2="316.70" y2="201.60" stroke="#231f20" stroke-width="0.8"/>
<line x1="318.43" y1="201.60" x2="319.71" y2="201.60" stroke="#231f20" stroke-width="0.8"/>
<line x1="320.40" y1="201.60" x2="323.89" y2="201.60" stroke="#231f20" stroke-width="0.8"/>
<line x1="324.99" y1="201.60" x2="328.00" y2="201.60" stroke="#231f20" stroke-width="0.8"/>
<line x1="329.11" y1="201.60" x2="331.53" y2="201.60" stroke="#231f20" stroke-width="0.8"/>
<line x1="332.08" y1="201.60" x2="334.49" y2="201.60" stroke="#231f20" stroke-width="0.8"/>
<line x1="336.26" y1="201.60" x2="338.33" y2="201.60" stroke="#231f20" stroke-width="0.8"/>
<line x1="339.89" y1="201.60" x2="342.41" y2="201.60" stroke="#231f20" stroke-width="0.8"/>
<line x1="342.82" y1="201.60" x2="345.59" y2="201.60" stroke="#231f20" stroke-width="0.8"/>
<line x1="346.90" y1="201.60" x2="348.30" y2="201.60" stroke="#231f20" stroke-width="0.8"/>
<line x1="348.65" y1="201.60" x2="351.75" y2="201.60" stroke="#231f20" stroke-width="0.8"/>
<line x1="352.85" y1="201.60" x2="355.51" y2="201.60" stroke="#231f20" stroke-width="0.8"/>
<line x1="357.30" y1="201.60" x2="359.94" y2="201.60" stroke="#231f20" stroke-width="0.8"/>
<line x1="361.81" y1="201.60" x2="363.50" y2="201.60" stroke="#231f20" stroke-width="0.8"/>
<line x1="365.16" y1="201.60" x2="366.99" y2="201.60" stroke="#231f20" stroke-width="0.8"/>
<line x1="368.88" y1="201.60" x2="372.02" y2="201.60" stroke="#231f20" stroke-width="0.8"/>
<line x1="372.48" y1="201.60" x2="373.39" y2="201.60" stroke="#231f20" stroke-width="0.8"/>
<line x1="374.06" y1="201.60" x2="377.46" y2="201.60" stroke="#231f20" stroke-width="0.8"/>
<line x1="378.50" y1="201.60" x2="380.88" y2="201.60" stroke="#231f20" stroke-width="0.8"/>
<line x1="381.69" y1="201.60" x2="383.71" y2="201.60" stroke="#231f20" stroke-width="0.8"/>
<line x1="384.67" y1="201.60" x2="386.22" y2="201.60" stroke="#231f20" stroke-width="0.8"/>
<line x1="387.52" y1="201.60" x2="389.77" y2="201.60" stroke="#231f20" stroke-width="0.8"/>
<line x1="391.61" y1="201.60" x2="394.15" y2="201.60" stroke="#231f20" stroke-width="0.8"/>
<line x1="396.03" y1="201.60" x2="399.10" y2="201.60" stroke="#231f20" stroke-width="0.8"/>
<line x1="401.08" y1="201.60" x2="403.60" y2="201.60" stroke="#231f20" stroke-width="0.8"/>
<line x1="404.18" y1="201.60" x2="407.26" y2="201.60" stroke="#231f20" stroke-width="0.8"/>
<line x1="409.20" y1="201.60" x2="412.41" y2="201.60" stroke="#231f20" stroke-width="0.8"/>
<line x1="413.68" y1="201.60" x2="416.32" y2="201.60" stroke="#231f20" stroke-width="0.8"/>
<line x1="416.98" y1="201.60" x2="419.97" y2="201.60" stroke="#231f20" stroke-width="0.8"/>
<line x1="421.25" y1="201.60" x2="422.60" y2="201.60" stroke="#231f20" stroke-width="0.8"/>
<line x1="423.01" y1="201.60" x2="426.07" y2="201.60" stroke="#231f20" stroke-width="0.8"/>
<line x1="428.06" y1="201.60" x2="428.82" y2="201.60" stroke="#231f20" stroke-width="0.8"/>
<line x1="430.48" y1="201.60" x2="432.21" y2="201.60" stroke="#231f20" stroke-width="0.8"/>
<line x1="432.77" y1="201.60" x2="434.15" y2="201.60" stroke="#231f20" stroke-width="0.8"/>
<line x1="435.76" y1="201.60" x2="438.88" y2="201.60" stroke="#231f20" stroke-width="0.8"/>
<line x1="439.25" y1="201.60" x2="441.60" y2="201.60" stroke="#231f20" stroke-width="0.8"/>
<line x1="441.97" y1="201.60" x2="444.63" y2="201.60" stroke="#231f20" stroke-width="0.8"/>
<line x1="445.49" y1="201.60" x2="448.63" y2="201.60" stroke="#231f20" stroke-width="0.8"/>
<line x1="450.60" y1="201.60" x2="452.62" y2="201.60" stroke="#231f20" stroke-width="0.8"/>
<line x1="454.61" y1="201.60" x2="456.04" y2="201.60" stroke="#231f20" stroke-width="0.8"/>
<line x1="456.47" y1="201.60" x2="458.77" y2="201.60" stroke="#231f20" stroke-width="0.8"/>
<line x1="459.13" y1="201.60" x2="460.22" y2="201.60" stroke="#231f20" stroke-width="0.8"/>
<line x1="461.21" y1="201.60" x2="463.54" y2="201.60" stroke="#231f20" stroke-width="0.8"/>
<line x1="464.11" y1="201.60" x2="464.74" y2="201.60" stroke="#231f20" stroke-width="0.8"/>
<line x1="466.51" y1="201.60" x2="467.95" y2="201.60" stroke="#231f20" stroke-width="0.8"/>
<line x1="469.88" y1="201.60" x2="473.07" y2="201.60" stroke="#231f20" stroke-width="0.8"/>
<line x1="474.01" y1="201.60" x2="475.90" y2="201.60" stroke="#231f20" stroke-width="0.8"/>
<line x1="477.08" y1="201.60" x2="479.51" y2="201.60" stroke="#231f20" stroke-width="0.8"/>
<line x1="480.82" y1="201.60" x2="483.00" y2="201.60" stroke="#231f20" stroke-width="0.8"/>
<line x1="484.36" y1="201.60" x2="487.68" y2="201.60" stroke="#231f20" stroke-width="0.8"/>
<polygon points="317.60,201.60 319.00,194.00 320.60,179.80 321.20,178.80 321.80,180.00 324.07,197.04 325.30,201.60" fill="#231f20" stroke="none" stroke-width="1"/>
<polygon points="335.40,201.60 337.40,190.50 338.00,189.50 338.60,190.70 339.33,199.18 339.90,201.60" fill="#231f20" stroke="none" stroke-width="1"/>
<polygon points="398.50,201.60 399.50,200.00 400.10,199.00 400.70,200.20 401.43,201.08 402.00,201.60" fill="#231f20" stroke="none" stroke-width="1"/>
<polygon points="415.90,201.60 417.50,197.50 418.70,193.20 419.30,192.20 419.90,193.40 421.47,199.72 422.40,201.60" fill="#231f20" stroke="none" stroke-width="1"/>
<line x1="308.00" y1="228.30" x2="309.21" y2="228.30" stroke="#231f20" stroke-width="0.8"/>
<line x1="309.68" y1="228.30" x2="311.37" y2="228.30" stroke="#231f20" stroke-width="0.8"/>
<line x1="311.94" y1="228.30" x2="312.63" y2="228.30" stroke="#231f20" stroke-width="0.8"/>
<line x1="313.62" y1="228.30" x2="316.87" y2="228.30" stroke="#231f20" stroke-width="0.8"/>
<line x1="318.53" y1="228.30" x2="321.33" y2="228.30" stroke="#231f20" stroke-width="0.8"/>
<line x1="322.00" y1="228.30" x2="324.11" y2="228.30" stroke="#231f20" stroke-width="0.8"/>
<line x1="324.89" y1="228.30" x2="325.90" y2="228.30" stroke="#231f20" stroke-width="0.8"/>
<line x1="326.38" y1="228.30" x2="327.53" y2="228.30" stroke="#231f20" stroke-width="0.8"/>
<line x1="329.40" y1="228.30" x2="332.39" y2="228.30" stroke="#231f20" stroke-width="0.8"/>
<line x1="334.06" y1="228.30" x2="336.96" y2="228.30" stroke="#231f20" stroke-width="0.8"/>
<line x1="337.59" y1="228.30" x2="339.02" y2="228.30" stroke="#231f20" stroke-width="0.8"/>
<line x1="340.39" y1="228.30" x2="343.08" y2="228.30" stroke="#231f20" stroke-width="0.8"/>
<line x1="344.84" y1="228.30" x2="347.98" y2="228.30" stroke="#231f20" stroke-width="0.8"/>
<line x1="348.42" y1="228.30" x2="350.74" y2="228.30" stroke="#231f20" stroke-width="0.8"/>
<line x1="352.18" y1="228.30" x2="354.20" y2="228.30" stroke="#231f20" stroke-width="0.8"/>
<line x1="354.80" y1="228.30" x2="356.72" y2="228.30" stroke="#231f20" stroke-width="0.8"/>
<line x1="357.18" y1="228.30" x2="360.48" y2="228.30" stroke="#231f20" stroke-width="0.8"/>
<line x1="362.25" y1="228.30" x2="364.39" y2="228.30" stroke="#231f20" stroke-width="0.8"/>
<line x1="365.20" y1="228.30" x2="368.43" y2="228.30" stroke="#231f20" stroke-width="0.8"/>
<line x1="369.70" y1="228.30" x2="372.85" y2="228.30" stroke="#231f20" stroke-width="0.8"/>
<line x1="374.59" y1="228.30" x2="376.62" y2="228.30" stroke="#231f20" stroke-width="0.8"/>
<line x1="377.62" y1="228.30" x2="379.92" y2="228.30" stroke="#231f20" stroke-width="0.8"/>
<line x1="380.95" y1="228.30" x2="381.93" y2="228.30" stroke="#231f20" stroke-width="0.8"/>
<line x1="382.75" y1="228.30" x2="385.69" y2="228.30" stroke="#231f20" stroke-width="0.8"/>
<line x1="386.06" y1="228.30" x2="386.70" y2="228.30" stroke="#231f20" stroke-width="0.8"/>
<line x1="388.07" y1="228.30" x2="389.41" y2="228.30" stroke="#231f20" stroke-width="0.8"/>
<line x1="390.62" y1="228.30" x2="392.53" y2="228.30" stroke="#231f20" stroke-width="0.8"/>
<line x1="393.42" y1="228.30" x2="396.91" y2="228.30" stroke="#231f20" stroke-width="0.8"/>
<line x1="397.54" y1="228.30" x2="399.28" y2="228.30" stroke="#231f20" stroke-width="0.8"/>
<line x1="399.92" y1="228.30" x2="402.32" y2="228.30" stroke="#231f20" stroke-width="0.8"/>
<line x1="403.09" y1="228.30" x2="404.66" y2="228.30" stroke="#231f20" stroke-width="0.8"/>
<line x1="406.23" y1="228.30" x2="407.69" y2="228.30" stroke="#231f20" stroke-width="0.8"/>
<line x1="408.94" y1="228.30" x2="412.15" y2="228.30" stroke="#231f20" stroke-width="0.8"/>
<line x1="412.62" y1="228.30" x2="413.31" y2="228.30" stroke="#231f20" stroke-width="0.8"/>
<line x1="414.00" y1="228.30" x2="416.79" y2="228.30" stroke="#231f20" stroke-width="0.8"/>
<line x1="418.14" y1="228.30" x2="419.35" y2="228.30" stroke="#231f20" stroke-width="0.8"/>
<line x1="420.21" y1="228.30" x2="421.25" y2="228.30" stroke="#231f20" stroke-width="0.8"/>
<line x1="422.33" y1="228.30" x2="422.96" y2="228.30" stroke="#231f20" stroke-width="0.8"/>
<line x1="424.44" y1="228.30" x2="427.63" y2="228.30" stroke="#231f20" stroke-width="0.8"/>
<line x1="429.55" y1="228.30" x2="432.26" y2="228.30" stroke="#231f20" stroke-width="0.8"/>
<line x1="434.19" y1="228.30" x2="434.74" y2="228.30" stroke="#231f20" stroke-width="0.8"/>
<line x1="435.53" y1="228.30" x2="438.93" y2="228.30" stroke="#231f20" stroke-width="0.8"/>
<line x1="440.55" y1="228.30" x2="442.28" y2="228.30" stroke="#231f20" stroke-width="0.8"/>
<line x1="444.18" y1="228.30" x2="446.55" y2="228.30" stroke="#231f20" stroke-width="0.8"/>
<line x1="448.24" y1="228.30" x2="449.62" y2="228.30" stroke="#231f20" stroke-width="0.8"/>
<line x1="450.24" y1="228.30" x2="452.07" y2="228.30" stroke="#231f20" stroke-width="0.8"/>
<line x1="452.61" y1="228.30" x2="454.25" y2="228.30" stroke="#231f20" stroke-width="0.8"/>
<line x1="456.19" y1="228.30" x2="457.68" y2="228.30" stroke="#231f20" stroke-width="0.8"/>
<line x1="458.00" y1="228.30" x2="458.63" y2="228.30" stroke="#231f20" stroke-width="0.8"/>
<line x1="459.22" y1="228.30" x2="462.07" y2="228.30" stroke="#231f20" stroke-width="0.8"/>
<line x1="462.99" y1="228.30" x2="464.36" y2="228.30" stroke="#231f20" stroke-width="0.8"/>
<line x1="464.82" y1="228.30" x2="468.27" y2="228.30" stroke="#231f20" stroke-width="0.8"/>
<line x1="469.29" y1="228.30" x2="470.41" y2="228.30" stroke="#231f20" stroke-width="0.8"/>
<line x1="470.81" y1="228.30" x2="471.48" y2="228.30" stroke="#231f20" stroke-width="0.8"/>
<line x1="472.07" y1="228.30" x2="474.60" y2="228.30" stroke="#231f20" stroke-width="0.8"/>
<line x1="475.15" y1="228.30" x2="475.77" y2="228.30" stroke="#231f20" stroke-width="0.8"/>
<line x1="476.91" y1="228.30" x2="478.16" y2="228.30" stroke="#231f20" stroke-width="0.8"/>
<line x1="480.15" y1="228.30" x2="481.02" y2="228.30" stroke="#231f20" stroke-width="0.8"/>
<line x1="482.22" y1="228.30" x2="485.04" y2="228.30" stroke="#231f20" stroke-width="0.8"/>
<line x1="486.04" y1="228.30" x2="488.00" y2="228.30" stroke="#231f20" stroke-width="0.8"/>
<polygon points="318.60,228.30 320.20,218.80 320.80,217.80 321.40,219.00 322.48,226.20 323.20,228.30" fill="#231f20" stroke="none" stroke-width="1"/>
<polygon points="333.50,228.30 336.60,226.00 337.20,225.00 337.80,226.20 340.21,227.64 341.50,228.30" fill="#231f20" stroke="none" stroke-width="1"/>
<polygon points="415.00,228.30 417.00,222.00 418.50,202.60 419.10,201.60 419.70,202.80 421.69,222.96 422.80,228.30" fill="#231f20" stroke="none" stroke-width="1"/>
<polygon points="468.00,228.30 469.40,227.80 470.00,226.80 470.60,228.00 471.40,228.00 472.00,228.30" fill="#231f20" stroke="none" stroke-width="1"/>
<line x1="308.00" y1="254.40" x2="340.00" y2="254.40" stroke="#ee9aa3" stroke-width="0.6"/>
<line x1="465" y1="254.4" x2="496" y2="254.4" stroke="#ee9aa3" stroke-width="0.6" stroke-dasharray="2 3"/>
<polygon points="340.10,254.60 340.50,231.20 341.30,231.50 341.60,248.00 342.50,251.00 343.50,254.60" fill="#e3202d" stroke="none" stroke-width="1"/>
<polygon points="345.50,254.60 345.80,232.70 346.60,233.50 347.20,243.00 348.50,247.00 350.00,246.50 351.50,248.00 352.50,246.20 354.00,247.50 355.50,246.80 356.50,248.50 358.00,247.00 359.50,248.50 361.00,250.00 362.80,250.00 363.30,246.00 364.30,246.00 364.60,250.00 365.30,250.00 365.50,245.80 366.40,246.00 366.50,254.60" fill="#e3202d" stroke="none" stroke-width="1"/>
<line x1="343.50" y1="254.40" x2="345.50" y2="254.40" stroke="#ee9aa3" stroke-width="0.6"/>
<line x1="366.50" y1="254.40" x2="465.00" y2="254.40" stroke="#ee9aa3" stroke-width="0.6"/>
<rect x="398.30" y="248.00" width="2.50" height="6.60" fill="#e3202d"/>
<rect x="410.60" y="248.50" width="1.20" height="6.10" fill="#e3202d"/>
<rect x="412.50" y="249.80" width="1.00" height="4.80" fill="#e3202d"/>
<rect x="414.00" y="247.40" width="1.00" height="7.20" fill="#e3202d"/>
<rect x="415.50" y="248.80" width="0.80" height="5.80" fill="#e3202d"/>
<rect x="416.80" y="246.50" width="1.00" height="8.10" fill="#e3202d"/>
<rect x="418.20" y="248.00" width="1.00" height="6.60" fill="#e3202d"/>
<rect x="425.60" y="248.00" width="1.00" height="6.60" fill="#e3202d"/>
<rect x="430.50" y="244.40" width="1.10" height="10.20" fill="#e3202d"/>
<rect x="433.20" y="246.20" width="0.80" height="8.40" fill="#e3202d"/>
<rect x="435.60" y="248.00" width="0.80" height="6.60" fill="#e3202d"/>
<rect x="437.60" y="249.00" width="0.80" height="5.60" fill="#e3202d"/>
<rect x="439.60" y="249.50" width="1.00" height="5.10" fill="#e3202d"/>
<rect x="454.60" y="250.30" width="1.80" height="4.30" fill="#e3202d"/>
<rect x="458.50" y="250.50" width="1.80" height="4.10" fill="#e3202d"/>
<rect x="462.60" y="250.50" width="2.00" height="4.10" fill="#e3202d"/>
<line x1="308.00" y1="280.80" x2="467.00" y2="280.80" stroke="#ee9aa3" stroke-width="0.7"/>
<line x1="472.00" y1="280.80" x2="476.00" y2="280.80" stroke="#ee9aa3" stroke-width="0.7"/>
<rect x="340.30" y="277.50" width="1.00" height="3.50" fill="#e3202d"/>
<rect x="346.00" y="278.50" width="1.00" height="2.50" fill="#e3202d"/>
<rect x="348.00" y="279.50" width="2.00" height="1.50" fill="#e3202d"/>
<rect x="351.00" y="279.80" width="5.00" height="1.20" fill="#e3202d"/>
<rect x="357.00" y="279.60" width="3.00" height="1.40" fill="#e3202d"/>
<rect x="361.00" y="279.60" width="4.00" height="1.40" fill="#e3202d"/>
<rect x="410.50" y="279.30" width="8.00" height="1.70" fill="#e3202d"/>
<line x1="335.80" y1="283.80" x2="466.00" y2="283.80" stroke="#2a5ea8" stroke-width="0.7"/>
<rect x="340.20" y="280.20" width="0.80" height="6.20" fill="#1f2a6e"/>
<rect x="346.00" y="280.20" width="4.20" height="6.20" fill="#1f2a6e"/>
<rect x="352.80" y="280.20" width="1.20" height="6.20" fill="#1f2a6e"/>
<rect x="355.60" y="280.20" width="3.60" height="6.20" fill="#1f2a6e"/>
<rect x="361.00" y="280.20" width="4.60" height="6.20" fill="#1f2a6e"/>
<rect x="399.30" y="280.20" width="1.50" height="6.20" fill="#1f2a6e"/>
<rect x="410.60" y="280.20" width="0.70" height="6.20" fill="#1f2a6e"/>
<rect x="417.30" y="280.20" width="0.70" height="6.20" fill="#1f2a6e"/>
<rect x="425.50" y="280.20" width="1.00" height="6.20" fill="#1f2a6e"/>
<rect x="428.50" y="280.20" width="0.80" height="6.20" fill="#1f2a6e"/>
<rect x="431.00" y="280.20" width="0.80" height="6.20" fill="#1f2a6e"/>
<rect x="433.50" y="280.20" width="0.80" height="6.20" fill="#1f2a6e"/>
<rect x="435.80" y="280.20" width="0.70" height="6.20" fill="#1f2a6e"/>
<rect x="438.00" y="280.20" width="0.80" height="6.20" fill="#1f2a6e"/>
<rect x="454.20" y="280.20" width="1.00" height="6.20" fill="#1f2a6e"/>
<rect x="457.30" y="280.20" width="1.00" height="6.20" fill="#1f2a6e"/>
<rect x="462.80" y="280.20" width="3.40" height="6.20" fill="#1f2a6e"/>
<text x="317.20" y="286.93" font-size="7.3" textLength="17.5" lengthAdjust="spacingAndGlyphs" stroke="#2a5ea8" stroke-width="0.14" fill="#2a5ea8">CD19</text>
<line x1="341.10" y1="292.50" x2="341.10" y2="287.50" stroke="#231f20" stroke-width="0.8"/>
<polygon points="339.40,288.60 341.10,285.60 342.80,288.60" fill="#231f20" stroke="none" stroke-width="1"/>
<text x="341.30" y="301.38" font-size="8.0" text-anchor="middle" textLength="13.3" lengthAdjust="spacingAndGlyphs" stroke="#231f20" stroke-width="0.14" fill="#231f20">TSS</text>
<rect x="312.9" y="180.8" width="14.3" height="100.2" fill="none" stroke="#f2a33a" stroke-width="1.1"/>
<line x1="312.90" y1="281.00" x2="214.20" y2="304.40" stroke="#f2a33a" stroke-width="1.1"/>
<line x1="327.20" y1="281.00" x2="425.00" y2="305.00" stroke="#f2a33a" stroke-width="1.1"/>
<text x="219.00" y="311.17" font-size="6.3" textLength="28.6" lengthAdjust="spacingAndGlyphs" stroke="#231f20" stroke-width="0.14" fill="#231f20">100 bases</text>
<line x1="250.50" y1="308.70" x2="331.80" y2="308.70" stroke="#231f20" stroke-width="0.8"/>
<line x1="250.50" y1="306.20" x2="250.50" y2="311.20" stroke="#231f20" stroke-width="0.8"/>
<line x1="331.80" y1="306.20" x2="331.80" y2="311.20" stroke="#231f20" stroke-width="0.8"/>
<text x="333.60" y="310.95" font-size="6.8" textLength="15" lengthAdjust="spacingAndGlyphs" stroke="#231f20" stroke-width="0.14" fill="#231f20">hg38</text>
<text x="215.80" y="322.88" font-size="6.9" textLength="31.8" lengthAdjust="spacingAndGlyphs" stroke="#231f20" stroke-width="0.14" fill="#231f20">28,930,800</text>
<line x1="249.00" y1="317.60" x2="249.00" y2="323.20" stroke="#777" stroke-width="0.9"/>
<text x="257.00" y="322.88" font-size="6.9" textLength="31.8" lengthAdjust="spacingAndGlyphs" stroke="#231f20" stroke-width="0.14" fill="#231f20">28,930,850</text>
<line x1="290.20" y1="317.60" x2="290.20" y2="323.20" stroke="#777" stroke-width="0.9"/>
<text x="298.60" y="322.88" font-size="6.9" textLength="31.8" lengthAdjust="spacingAndGlyphs" stroke="#231f20" stroke-width="0.14" fill="#231f20">28,930,900</text>
<line x1="331.80" y1="317.60" x2="331.80" y2="323.20" stroke="#777" stroke-width="0.9"/>
<text x="339.60" y="322.88" font-size="6.9" textLength="31.8" lengthAdjust="spacingAndGlyphs" stroke="#231f20" stroke-width="0.14" fill="#231f20">28,930,950</text>
<line x1="372.80" y1="317.60" x2="372.80" y2="323.20" stroke="#777" stroke-width="0.9"/>
<text x="380.90" y="322.88" font-size="6.9" textLength="31.8" lengthAdjust="spacingAndGlyphs" stroke="#231f20" stroke-width="0.14" fill="#231f20">28,931,000</text>
<line x1="414.10" y1="317.60" x2="414.10" y2="323.20" stroke="#777" stroke-width="0.9"/>
<line x1="301.70" y1="341.60" x2="334.40" y2="341.60" stroke="#c9506a" stroke-width="0.8"/>
<polygon points="303.30,341.60 304.00,339.00 304.70,341.60" fill="#d6283e" stroke="none" stroke-width="1"/>
<polygon points="308.70,341.60 309.40,328.00 310.10,341.60" fill="#d6283e" stroke="none" stroke-width="1"/>
<polygon points="309.60,341.60 310.30,333.00 311.00,341.60" fill="#d6283e" stroke="none" stroke-width="1"/>
<polygon points="316.80,341.60 317.50,336.00 318.20,341.60" fill="#d6283e" stroke="none" stroke-width="1"/>
<polygon points="330.50,341.60 331.20,335.00 331.90,341.60" fill="#d6283e" stroke="none" stroke-width="1"/>
<polygon points="331.80,341.60 332.50,338.00 333.20,341.60" fill="#d6283e" stroke="none" stroke-width="1"/>
<polygon points="301.90,341.60 302.50,344.00 303.10,341.60" fill="#1f2a6e" stroke="none" stroke-width="1"/>
<polygon points="305.90,341.60 306.50,347.50 307.10,341.60" fill="#1f2a6e" stroke="none" stroke-width="1"/>
<polygon points="329.90,341.60 330.50,345.50 331.10,341.60" fill="#1f2a6e" stroke="none" stroke-width="1"/>
<polygon points="332.60,341.60 333.20,345.00 333.80,341.60" fill="#1f2a6e" stroke="none" stroke-width="1"/>
<line x1="385.00" y1="342.00" x2="411.00" y2="342.00" stroke="#c9506a" stroke-width="0.8"/>
<polygon points="388.30,342.00 389.00,338.00 389.70,342.00" fill="#d6283e" stroke="none" stroke-width="1"/>
<polygon points="405.30,342.00 406.00,338.00 406.70,342.00" fill="#d6283e" stroke="none" stroke-width="1"/>
<rect x="385.90" y="342.00" width="1.60" height="14.00" fill="#5a6070"/>
<rect x="402.90" y="342.00" width="1.60" height="14.00" fill="#5a6070"/>
<rect x="388.50" y="342.00" width="1.00" height="2.80" fill="#1f2a6e"/>
<rect x="405.50" y="342.00" width="1.00" height="2.80" fill="#1f2a6e"/>
<line x1="299.80" y1="415.60" x2="334.00" y2="415.60" stroke="#c9506a" stroke-width="0.8"/>
<polygon points="301.30,415.60 302.00,414.00 302.70,415.60" fill="#d6283e" stroke="none" stroke-width="1"/>
<polygon points="304.10,415.60 304.80,412.50 305.50,415.60" fill="#d6283e" stroke="none" stroke-width="1"/>
<polygon points="306.30,415.60 307.00,411.00 307.70,415.60" fill="#d6283e" stroke="none" stroke-width="1"/>
<polygon points="308.80,415.60 309.50,410.00 310.20,415.60" fill="#d6283e" stroke="none" stroke-width="1"/>
<polygon points="311.30,415.60 312.00,410.00 312.70,415.60" fill="#d6283e" stroke="none" stroke-width="1"/>
<polygon points="313.80,415.60 314.50,408.50 315.20,415.60" fill="#d6283e" stroke="none" stroke-width="1"/>
<polygon points="316.30,415.60 317.00,413.50 317.70,415.60" fill="#d6283e" stroke="none" stroke-width="1"/>
<polygon points="319.30,415.60 320.00,412.50 320.70,415.60" fill="#d6283e" stroke="none" stroke-width="1"/>
<polygon points="322.30,415.60 323.00,414.00 323.70,415.60" fill="#d6283e" stroke="none" stroke-width="1"/>
<polygon points="325.30,415.60 326.00,413.00 326.70,415.60" fill="#d6283e" stroke="none" stroke-width="1"/>
<polygon points="328.30,415.60 329.00,412.00 329.70,415.60" fill="#d6283e" stroke="none" stroke-width="1"/>
<polygon points="332.30,415.60 333.00,413.00 333.70,415.60" fill="#d6283e" stroke="none" stroke-width="1"/>
<polygon points="305.20,415.60 305.80,418.50 306.40,415.60" fill="#1f2a6e" stroke="none" stroke-width="1"/>
<polygon points="309.90,415.60 310.50,418.00 311.10,415.60" fill="#1f2a6e" stroke="none" stroke-width="1"/>
<polygon points="326.20,415.60 326.80,419.50 327.40,415.60" fill="#1f2a6e" stroke="none" stroke-width="1"/>
<polygon points="327.40,415.60 328.00,420.00 328.60,415.60" fill="#1f2a6e" stroke="none" stroke-width="1"/>
<polygon points="213.50,378.90 250.40,378.90 250.40,376.80 266.50,376.80 266.50,375.20 283.80,375.20 283.80,374.30 307.00,374.30 307.00,373.20 318.00,372.70 362.00,372.70 364.20,374.30 379.20,374.30 379.20,375.50 395.40,375.50 395.40,376.20 411.50,376.20 411.50,378.00 425.60,378.00 425.60,386.00 213.50,386.00" fill="#248a58" stroke="none" stroke-width="1"/>
<polygon points="213.50,387.20 240.00,387.20 244.00,388.50 250.00,389.50 255.00,391.00 262.00,392.30 268.00,391.50 275.00,390.50 285.00,389.30 295.00,389.60 302.00,390.50 306.00,392.00 309.00,395.00 311.00,398.50 318.00,399.20 324.00,398.00 327.00,396.00 329.00,392.00 331.00,388.50 333.00,387.20 335.00,388.50 338.00,390.30 341.00,389.00 343.00,387.20 357.00,387.20 360.00,389.00 366.00,391.00 372.00,392.80 376.00,391.00 380.00,389.20 386.00,390.50 391.00,393.50 395.50,397.20 398.00,393.00 402.00,389.50 405.00,387.50 409.00,388.50 412.00,390.80 416.00,391.30 420.00,389.50 423.00,388.00 425.60,387.20 425.60,386.40 213.50,386.40" fill="#7c7c7e" stroke="none" stroke-width="1"/>
<rect x="213.50" y="386.00" width="212.10" height="0.90" fill="#c8d8cc"/>
<text x="435.70" y="383.16" font-size="7.4" textLength="59.3" lengthAdjust="spacingAndGlyphs" stroke="#231f20" stroke-width="0.14" fill="#231f20">Presentation DHS</text>
<text x="435.70" y="392.36" font-size="7.4" textLength="47.5" lengthAdjust="spacingAndGlyphs" stroke="#231f20" stroke-width="0.14" fill="#231f20">FP probability</text>
<polygon points="213.50,442.40 250.00,441.20 300.00,440.30 360.00,440.10 400.00,440.80 426.60,442.20 426.60,446.30 213.50,446.30" fill="#248a58" stroke="none" stroke-width="1"/>
<polygon points="244.60,446.80 247.60,447.80 255.55,448.80 263.50,447.80 266.50,446.80" fill="#7c7c7e" stroke="none" stroke-width="1"/>
<polygon points="277.00,446.80 280.00,447.80 283.30,449.50 286.60,447.80 289.60,446.80" fill="#7c7c7e" stroke="none" stroke-width="1"/>
<polygon points="304.60,446.80 307.60,447.80 310.95,449.50 314.30,447.80 317.30,446.80" fill="#7c7c7e" stroke="none" stroke-width="1"/>
<polygon points="331.50,446.80 334.50,447.80 339.00,449.30 343.50,447.80 346.50,446.80" fill="#7c7c7e" stroke="none" stroke-width="1"/>
<polygon points="411.00,446.80 414.00,447.80 415.50,448.60 417.00,447.80 420.00,446.80" fill="#7c7c7e" stroke="none" stroke-width="1"/>
<line x1="352.00" y1="447.20" x2="417.00" y2="447.20" stroke="#b0b0b4" stroke-width="0.8"/>
<rect x="213.50" y="446.30" width="213.00" height="0.70" fill="#c8d8cc"/>
<text x="435.70" y="443.46" font-size="7.4" textLength="43.5" lengthAdjust="spacingAndGlyphs" stroke="#231f20" stroke-width="0.14" fill="#231f20">Relapse DHS</text>
<text x="435.70" y="453.26" font-size="7.4" textLength="47.5" lengthAdjust="spacingAndGlyphs" stroke="#231f20" stroke-width="0.14" fill="#231f20">FP probability</text>
<rect x="310.8" y="327.1" width="16.2" height="127.9" fill="none" stroke="#f2a33a" stroke-width="1.1"/>
<line x1="310.80" y1="455.00" x2="193.00" y2="476.90" stroke="#f2a33a" stroke-width="1.1"/>
<line x1="327.00" y1="455.00" x2="454.20" y2="477.00" stroke="#f2a33a" stroke-width="1.1"/>
<text x="189.80" y="483.52" font-size="4.5" textLength="20.6" lengthAdjust="spacingAndGlyphs" stroke="#333" stroke-width="0.05" fill="#333">28,930,865</text>
<line x1="211.70" y1="480.20" x2="211.70" y2="483.60" stroke="#999" stroke-width="0.5"/>
<text x="220.95" y="483.52" font-size="4.5" textLength="20.6" lengthAdjust="spacingAndGlyphs" stroke="#333" stroke-width="0.05" fill="#333">28,930,870</text>
<line x1="242.85" y1="480.20" x2="242.85" y2="483.60" stroke="#999" stroke-width="0.5"/>
<text x="252.10" y="483.52" font-size="4.5" textLength="20.6" lengthAdjust="spacingAndGlyphs" stroke="#333" stroke-width="0.05" fill="#333">28,930,875</text>
<line x1="274.00" y1="480.20" x2="274.00" y2="483.60" stroke="#999" stroke-width="0.5"/>
<text x="283.25" y="483.52" font-size="4.5" textLength="20.6" lengthAdjust="spacingAndGlyphs" stroke="#333" stroke-width="0.05" fill="#333">28,930,880</text>
<line x1="305.15" y1="480.20" x2="305.15" y2="483.60" stroke="#999" stroke-width="0.5"/>
<text x="314.40" y="483.52" font-size="4.5" textLength="20.6" lengthAdjust="spacingAndGlyphs" stroke="#333" stroke-width="0.05" fill="#333">28,930,885</text>
<line x1="336.30" y1="480.20" x2="336.30" y2="483.60" stroke="#999" stroke-width="0.5"/>
<text x="345.55" y="483.52" font-size="4.5" textLength="20.6" lengthAdjust="spacingAndGlyphs" stroke="#333" stroke-width="0.05" fill="#333">28,930,890</text>
<line x1="367.45" y1="480.20" x2="367.45" y2="483.60" stroke="#999" stroke-width="0.5"/>
<text x="376.70" y="483.52" font-size="4.5" textLength="20.6" lengthAdjust="spacingAndGlyphs" stroke="#333" stroke-width="0.05" fill="#333">28,930,895</text>
<line x1="398.60" y1="480.20" x2="398.60" y2="483.60" stroke="#999" stroke-width="0.5"/>
<text x="407.85" y="483.52" font-size="4.5" textLength="20.6" lengthAdjust="spacingAndGlyphs" stroke="#333" stroke-width="0.05" fill="#333">28,930,900</text>
<line x1="429.75" y1="480.20" x2="429.75" y2="483.60" stroke="#999" stroke-width="0.5"/>
<text x="194.90" y="490.82" font-size="5.6" text-anchor="middle" stroke="#444" stroke-width="0.05" fill="#444">T</text>
<text x="201.16" y="490.82" font-size="5.6" text-anchor="middle" stroke="#444" stroke-width="0.05" fill="#444">G</text>
<text x="207.43" y="490.82" font-size="5.6" text-anchor="middle" stroke="#444" stroke-width="0.05" fill="#444">C</text>
<text x="213.69" y="490.82" font-size="5.6" text-anchor="middle" stroke="#444" stroke-width="0.05" fill="#444">C</text>
<text x="219.96" y="490.82" font-size="5.6" text-anchor="middle" stroke="#444" stroke-width="0.05" fill="#444">A</text>
<text x="226.22" y="490.82" font-size="5.6" text-anchor="middle" stroke="#444" stroke-width="0.05" fill="#444">C</text>
<text x="232.49" y="490.82" font-size="5.6" text-anchor="middle" stroke="#444" stroke-width="0.05" fill="#444">C</text>
<text x="238.75" y="490.82" font-size="5.6" text-anchor="middle" stroke="#444" stroke-width="0.05" fill="#444">T</text>
<text x="245.02" y="490.82" font-size="5.6" text-anchor="middle" stroke="#444" stroke-width="0.05" fill="#444">G</text>
<text x="251.28" y="490.82" font-size="5.6" text-anchor="middle" stroke="#444" stroke-width="0.05" fill="#444">T</text>
<text x="257.55" y="490.82" font-size="5.6" text-anchor="middle" stroke="#444" stroke-width="0.05" fill="#444">A</text>
<text x="263.81" y="490.82" font-size="5.6" text-anchor="middle" stroke="#444" stroke-width="0.05" fill="#444">G</text>
<text x="270.08" y="490.82" font-size="5.6" text-anchor="middle" stroke="#444" stroke-width="0.05" fill="#444">G</text>
<text x="276.35" y="490.82" font-size="5.6" text-anchor="middle" stroke="#444" stroke-width="0.05" fill="#444">G</text>
<text x="282.61" y="490.82" font-size="5.6" text-anchor="middle" stroke="#444" stroke-width="0.05" fill="#444">A</text>
<text x="288.88" y="490.82" font-size="5.6" text-anchor="middle" stroke="#444" stroke-width="0.05" fill="#444">G</text>
<text x="295.14" y="490.82" font-size="5.6" text-anchor="middle" stroke="#444" stroke-width="0.05" fill="#444">G</text>
<text x="301.40" y="490.82" font-size="5.6" text-anchor="middle" stroke="#444" stroke-width="0.05" fill="#444">G</text>
<text x="307.67" y="490.82" font-size="5.6" text-anchor="middle" stroke="#444" stroke-width="0.05" fill="#444">T</text>
<text x="313.94" y="490.82" font-size="5.6" text-anchor="middle" stroke="#444" stroke-width="0.05" fill="#444">C</text>
<text x="320.20" y="490.82" font-size="5.6" text-anchor="middle" stroke="#444" stroke-width="0.05" fill="#444">C</text>
<text x="326.47" y="490.82" font-size="5.6" text-anchor="middle" stroke="#444" stroke-width="0.05" fill="#444">C</text>
<text x="332.73" y="490.82" font-size="5.6" text-anchor="middle" stroke="#444" stroke-width="0.05" fill="#444">C</text>
<text x="339.00" y="490.82" font-size="5.6" text-anchor="middle" stroke="#444" stroke-width="0.05" fill="#444">T</text>
<text x="345.26" y="490.82" font-size="5.6" text-anchor="middle" stroke="#444" stroke-width="0.05" fill="#444">G</text>
<text x="351.52" y="490.82" font-size="5.6" text-anchor="middle" stroke="#444" stroke-width="0.05" fill="#444">G</text>
<text x="357.79" y="490.82" font-size="5.6" text-anchor="middle" stroke="#444" stroke-width="0.05" fill="#444">G</text>
<text x="364.06" y="490.82" font-size="5.6" text-anchor="middle" stroke="#444" stroke-width="0.05" fill="#444">G</text>
<text x="370.32" y="490.82" font-size="5.6" text-anchor="middle" stroke="#444" stroke-width="0.05" fill="#444">C</text>
<text x="376.59" y="490.82" font-size="5.6" text-anchor="middle" stroke="#444" stroke-width="0.05" fill="#444">T</text>
<text x="382.85" y="490.82" font-size="5.6" text-anchor="middle" stroke="#444" stroke-width="0.05" fill="#444">T</text>
<text x="389.12" y="490.82" font-size="5.6" text-anchor="middle" stroke="#444" stroke-width="0.05" fill="#444">G</text>
<text x="395.38" y="490.82" font-size="5.6" text-anchor="middle" stroke="#444" stroke-width="0.05" fill="#444">C</text>
<text x="401.64" y="490.82" font-size="5.6" text-anchor="middle" stroke="#444" stroke-width="0.05" fill="#444">C</text>
<text x="407.91" y="490.82" font-size="5.6" text-anchor="middle" stroke="#444" stroke-width="0.05" fill="#444">C</text>
<text x="414.17" y="490.82" font-size="5.6" text-anchor="middle" stroke="#444" stroke-width="0.05" fill="#444">A</text>
<text x="420.44" y="490.82" font-size="5.6" text-anchor="middle" stroke="#444" stroke-width="0.05" fill="#444">C</text>
<text x="426.70" y="490.82" font-size="5.6" text-anchor="middle" stroke="#444" stroke-width="0.05" fill="#444">A</text>
<text x="432.97" y="490.82" font-size="5.6" text-anchor="middle" stroke="#444" stroke-width="0.05" fill="#444">G</text>
<text x="439.24" y="490.82" font-size="5.6" text-anchor="middle" stroke="#444" stroke-width="0.05" fill="#444">C</text>
<text x="445.50" y="490.82" font-size="5.6" text-anchor="middle" stroke="#444" stroke-width="0.05" fill="#444">A</text>
<text x="451.76" y="490.82" font-size="5.6" text-anchor="middle" stroke="#444" stroke-width="0.05" fill="#444">A</text>
<text x="330.00" y="497.84" font-size="7.6" text-anchor="middle" textLength="12.9" lengthAdjust="spacingAndGlyphs" stroke="#231f20" stroke-width="0.14" fill="#231f20">EBF</text>
<line x1="198.50" y1="506.10" x2="454.00" y2="506.10" stroke="#9c5578" stroke-width="0.7"/>
<rect x="205.20" y="504.60" width="5.40" height="1.40" fill="#a0405a"/>
<rect x="205.20" y="506.00" width="5.40" height="1.20" fill="#6a3060"/>
<rect x="229.40" y="503.80" width="6.80" height="2.20" fill="#d6283e"/>
<rect x="236.20" y="506.00" width="5.80" height="3.60" fill="#1f2a6e"/>
<rect x="248.30" y="502.50" width="6.20" height="3.50" fill="#d6283e"/>
<rect x="254.50" y="496.00" width="5.90" height="10.00" fill="#d6283e"/>
<rect x="254.50" y="506.00" width="5.90" height="1.30" fill="#1f2a6e"/>
<rect x="317.00" y="502.00" width="6.70" height="4.00" fill="#d6283e"/>
<rect x="398.00" y="496.80" width="7.00" height="9.20" fill="#d6283e"/>
<rect x="398.00" y="506.00" width="7.00" height="2.00" fill="#1f2a6e"/>
<rect x="418.00" y="506.00" width="6.00" height="1.80" fill="#1f2a6e"/>
<rect x="424.00" y="501.20" width="6.00" height="4.80" fill="#d6283e"/>
<rect x="424.00" y="506.00" width="6.00" height="1.80" fill="#1f2a6e"/>
<rect x="437.00" y="504.30" width="10.00" height="1.70" fill="#d6283e"/>
<rect x="449.00" y="506.00" width="5.00" height="2.20" fill="#1f2a6e"/>
<text x="460.00" y="505.04" font-size="7.6" textLength="44" lengthAdjust="spacingAndGlyphs" stroke="#d03658" stroke-width="0.14" fill="#d03658">+ Strand cuts</text>
<text x="460.00" y="513.14" font-size="7.6" textLength="44" lengthAdjust="spacingAndGlyphs" stroke="#3468aa" stroke-width="0.14" fill="#3468aa">– Strand cuts</text>
<rect x="191.70" y="517.00" width="262.50" height="9.30" fill="#248a58"/>
<polygon points="191.70,527.20 205.00,527.60 220.00,528.20 235.00,529.00 248.00,530.50 258.00,532.00 268.00,534.00 280.00,535.40 292.00,536.00 366.00,536.00 380.00,534.50 395.00,532.60 410.00,530.00 422.00,528.00 430.40,526.80 430.40,526.60 191.70,526.60" fill="#7c7c7e" stroke="none" stroke-width="1"/>
<rect x="191.70" y="526.30" width="262.50" height="0.80" fill="#c8d8cc"/>
<text x="460.20" y="525.64" font-size="7.6" textLength="59.3" lengthAdjust="spacingAndGlyphs" stroke="#231f20" stroke-width="0.14" fill="#231f20">Presentation DHS</text>
<text x="460.20" y="534.24" font-size="7.6" textLength="47.5" lengthAdjust="spacingAndGlyphs" stroke="#231f20" stroke-width="0.14" fill="#231f20">FP probability</text>
<text x="1.60" y="257.70" font-size="11.8" font-weight="bold" stroke="#231f20" stroke-width="0.45" fill="#231f20">D</text>
<text transform="translate(5.50,295.30) rotate(-90)" x="0" y="3.67" font-size="10.2" text-anchor="middle" textLength="25" lengthAdjust="spacingAndGlyphs" stroke="#231f20" stroke-width="0.14" fill="#231f20">DNase1</text>
<text transform="translate(17.00,295.70) rotate(-90)" x="0" y="3.53" font-size="9.8" text-anchor="middle" textLength="53.8" lengthAdjust="spacingAndGlyphs" stroke="#231f20" stroke-width="0.14" fill="#231f20">average activity</text>
<line x1="41.10" y1="274.20" x2="41.10" y2="316.20" stroke="#231f20" stroke-width="1.0"/>
<line x1="41.10" y1="315.80" x2="101.00" y2="315.80" stroke="#231f20" stroke-width="1.0"/>
<line x1="38.60" y1="315.80" x2="41.10" y2="315.80" stroke="#231f20" stroke-width="0.8"/>
<text x="34.50" y="318.18" font-size="6.6" text-anchor="end" stroke="#231f20" stroke-width="0.14" fill="#231f20">0.0</text>
<line x1="38.60" y1="306.40" x2="41.10" y2="306.40" stroke="#231f20" stroke-width="0.8"/>
<text x="34.50" y="308.78" font-size="6.6" text-anchor="end" stroke="#231f20" stroke-width="0.14" fill="#231f20">1.0</text>
<line x1="38.60" y1="297.00" x2="41.10" y2="297.00" stroke="#231f20" stroke-width="0.8"/>
<text x="34.50" y="299.38" font-size="6.6" text-anchor="end" stroke="#231f20" stroke-width="0.14" fill="#231f20">2.0</text>
<line x1="38.60" y1="287.60" x2="41.10" y2="287.60" stroke="#231f20" stroke-width="0.8"/>
<text x="34.50" y="289.98" font-size="6.6" text-anchor="end" stroke="#231f20" stroke-width="0.14" fill="#231f20">3.0</text>
<line x1="38.60" y1="278.20" x2="41.10" y2="278.20" stroke="#231f20" stroke-width="0.8"/>
<text x="34.50" y="280.58" font-size="6.6" text-anchor="end" stroke="#231f20" stroke-width="0.14" fill="#231f20">4.0</text>
<line x1="124.00" y1="274.20" x2="124.00" y2="316.20" stroke="#231f20" stroke-width="1.0"/>
<line x1="124.00" y1="315.80" x2="183.00" y2="315.80" stroke="#231f20" stroke-width="1.0"/>
<line x1="121.50" y1="315.80" x2="124.00" y2="315.80" stroke="#231f20" stroke-width="0.8"/>
<text x="117.40" y="318.18" font-size="6.6" text-anchor="end" stroke="#231f20" stroke-width="0.14" fill="#231f20">0.0</text>
<line x1="121.50" y1="306.40" x2="124.00" y2="306.40" stroke="#231f20" stroke-width="0.8"/>
<text x="117.40" y="308.78" font-size="6.6" text-anchor="end" stroke="#231f20" stroke-width="0.14" fill="#231f20">1.0</text>
<line x1="121.50" y1="297.00" x2="124.00" y2="297.00" stroke="#231f20" stroke-width="0.8"/>
<text x="117.40" y="299.38" font-size="6.6" text-anchor="end" stroke="#231f20" stroke-width="0.14" fill="#231f20">2.0</text>
<line x1="121.50" y1="287.60" x2="124.00" y2="287.60" stroke="#231f20" stroke-width="0.8"/>
<text x="117.40" y="289.98" font-size="6.6" text-anchor="end" stroke="#231f20" stroke-width="0.14" fill="#231f20">3.0</text>
<line x1="121.50" y1="278.20" x2="124.00" y2="278.20" stroke="#231f20" stroke-width="0.8"/>
<text x="117.40" y="280.58" font-size="6.6" text-anchor="end" stroke="#231f20" stroke-width="0.14" fill="#231f20">4.0</text>
<line x1="42.20" y1="315.80" x2="42.20" y2="318.30" stroke="#231f20" stroke-width="0.8"/>
<text x="42.80" y="326.75" font-size="6.8" text-anchor="middle" stroke="#231f20" stroke-width="0.14" fill="#231f20">−100</text>
<line x1="69.00" y1="315.80" x2="69.00" y2="318.30" stroke="#231f20" stroke-width="0.8"/>
<text x="69.00" y="326.75" font-size="6.8" text-anchor="middle" stroke="#231f20" stroke-width="0.14" fill="#231f20">0</text>
<line x1="97.10" y1="315.80" x2="97.10" y2="318.30" stroke="#231f20" stroke-width="0.8"/>
<text x="97.10" y="326.75" font-size="6.8" text-anchor="middle" stroke="#231f20" stroke-width="0.14" fill="#231f20">100</text>
<line x1="124.60" y1="315.80" x2="124.60" y2="318.30" stroke="#231f20" stroke-width="0.8"/>
<text x="125.20" y="326.75" font-size="6.8" text-anchor="middle" stroke="#231f20" stroke-width="0.14" fill="#231f20">−100</text>
<line x1="151.30" y1="315.80" x2="151.30" y2="318.30" stroke="#231f20" stroke-width="0.8"/>
<text x="151.30" y="326.75" font-size="6.8" text-anchor="middle" stroke="#231f20" stroke-width="0.14" fill="#231f20">0</text>
<line x1="178.90" y1="315.80" x2="178.90" y2="318.30" stroke="#231f20" stroke-width="0.8"/>
<text x="178.90" y="326.75" font-size="6.8" text-anchor="middle" stroke="#231f20" stroke-width="0.14" fill="#231f20">100</text>
<polyline points="41.30,305.50 47.00,303.80 53.50,302.40 54.20,300.60 55.60,300.30 56.80,302.20 58.50,301.80 61.50,302.60 62.80,302.30 63.60,305.50 64.50,307.40 66.00,308.20 67.80,307.60 68.60,304.00 69.60,301.60 72.00,302.80 78.00,304.80 85.00,307.20 92.50,309.80" fill="none" stroke="#b5123a" stroke-width="1.3" stroke-linejoin="round"/>
<polyline points="41.30,309.70 47.00,307.80 53.00,305.20 58.00,304.00 62.50,302.60 66.00,302.30 70.00,301.80 74.00,301.60 77.50,301.20 78.80,299.50 79.50,301.80 84.00,302.20 88.00,303.20 92.50,304.20" fill="none" stroke="#3aa84a" stroke-width="1.3" stroke-linejoin="round"/>
<polyline points="124.20,305.80 130.00,302.50 137.00,298.50 143.00,294.50 146.10,292.90 148.00,291.30" fill="none" stroke="#3aa84a" stroke-width="1.3" stroke-linejoin="round"/>
<polyline points="153.60,289.50 154.50,276.40 155.50,284.20 160.00,280.70 163.60,276.10 163.80,291.90 164.80,287.20 170.00,289.50 178.40,293.60" fill="none" stroke="#3aa84a" stroke-width="1.3" stroke-linejoin="round"/>
<polyline points="124.20,294.20 130.00,290.60 134.60,287.30 136.40,288.20 137.50,291.70 137.90,278.80 141.00,281.00 145.80,284.50 147.30,274.70 147.60,290.20 148.60,303.00 149.60,306.20 150.60,306.70 151.80,306.20 152.60,303.00 153.60,289.50 154.30,289.00 157.00,292.90 162.00,295.80 170.00,300.60 178.40,305.20" fill="none" stroke="#b5123a" stroke-width="1.3" stroke-linejoin="round"/>
<defs>
<linearGradient id="hm1" x1="0" x2="1" y1="0" y2="0"><stop offset="0.004" stop-color="#0e0305"/><stop offset="0.054" stop-color="#22060c"/><stop offset="0.125" stop-color="#3a0918"/><stop offset="0.196" stop-color="#440b1c"/><stop offset="0.268" stop-color="#400a1a"/><stop offset="0.339" stop-color="#280612"/><stop offset="0.393" stop-color="#0c0406"/><stop offset="0.464" stop-color="#040404"/><stop offset="0.536" stop-color="#050805"/><stop offset="0.589" stop-color="#0b2412"/><stop offset="0.661" stop-color="#143e22"/><stop offset="0.786" stop-color="#184a2a"/><stop offset="0.911" stop-color="#1a4e2c"/><stop offset="1.000" stop-color="#123c1e"/></linearGradient>
<linearGradient id="hm2" x1="0" x2="1" y1="0" y2="0"><stop offset="0.002" stop-color="#300810"/><stop offset="0.036" stop-color="#6a1018"/><stop offset="0.125" stop-color="#8a1620"/><stop offset="0.196" stop-color="#741219"/><stop offset="0.250" stop-color="#a01a26"/><stop offset="0.321" stop-color="#c42030"/><stop offset="0.393" stop-color="#b21c2a"/><stop offset="0.439" stop-color="#6a0e18"/><stop offset="0.473" stop-color="#0a0404"/><stop offset="0.545" stop-color="#040804"/><stop offset="0.571" stop-color="#1a6a2c"/><stop offset="0.625" stop-color="#2aa848"/><stop offset="0.696" stop-color="#27a245"/><stop offset="0.741" stop-color="#3ab95a"/><stop offset="0.768" stop-color="#229040"/><stop offset="0.875" stop-color="#209a42"/><stop offset="1.002" stop-color="#1e9440"/></linearGradient>
<linearGradient id="vf1" x1="0" x2="0" y1="0" y2="1">
<stop offset="0" stop-color="#000" stop-opacity="0.35"/><stop offset="0.06" stop-color="#000" stop-opacity="0"/>
<stop offset="0.82" stop-color="#000" stop-opacity="0.1"/><stop offset="0.9" stop-color="#000" stop-opacity="0.75"/><stop offset="1" stop-color="#000" stop-opacity="0.95"/></linearGradient>
<linearGradient id="vf2" x1="0" x2="0" y1="0" y2="1">
<stop offset="0" stop-color="#000" stop-opacity="0.3"/><stop offset="0.04" stop-color="#000" stop-opacity="0"/><stop offset="1" stop-color="#000" stop-opacity="0"/></linearGradient>
<filter id="noise" x="0" y="0" width="1" height="1"><feTurbulence type="fractalNoise" baseFrequency="0.9 0.35" numOctaves="2" seed="3"/><feColorMatrix type="matrix" values="0 0 0 0 0  0 0 0 0 0  0 0 0 0 0  0 0 0 -1.1 0.75"/></filter>
</defs>
<rect x="41.00" y="333.00" width="56.00" height="146.30" fill="url(#hm1)"/>
<rect x="123.00" y="333.00" width="56.00" height="146.30" fill="url(#hm2)"/>
<rect x="41.0" y="357.1" width="56.0" height="0.8" fill="#000" fill-opacity="0.12"/>
<rect x="41.0" y="403.1" width="56.0" height="0.5" fill="#000" fill-opacity="0.14"/>
<rect x="41.0" y="451.2" width="56.0" height="0.7" fill="#000" fill-opacity="0.10"/>
<rect x="41.0" y="367.5" width="56.0" height="0.4" fill="#000" fill-opacity="0.08"/>
<rect x="41.0" y="418.6" width="56.0" height="0.4" fill="#000" fill-opacity="0.14"/>
<rect x="41.0" y="367.0" width="56.0" height="0.5" fill="#000" fill-opacity="0.05"/>
<rect x="41.0" y="478.9" width="56.0" height="0.8" fill="#000" fill-opacity="0.15"/>
<rect x="41.0" y="423.1" width="56.0" height="0.4" fill="#000" fill-opacity="0.08"/>
<rect x="41.0" y="405.8" width="56.0" height="0.5" fill="#000" fill-opacity="0.15"/>
<rect x="41.0" y="386.9" width="56.0" height="0.5" fill="#000" fill-opacity="0.14"/>
<rect x="41.0" y="351.3" width="56.0" height="1.0" fill="#000" fill-opacity="0.09"/>
<rect x="41.0" y="413.8" width="56.0" height="0.6" fill="#000" fill-opacity="0.10"/>
<rect x="41.0" y="360.3" width="56.0" height="0.4" fill="#000" fill-opacity="0.14"/>
<rect x="41.0" y="367.4" width="56.0" height="0.9" fill="#000" fill-opacity="0.07"/>
<rect x="41.0" y="474.7" width="56.0" height="0.9" fill="#000" fill-opacity="0.13"/>
<rect x="41.0" y="444.6" width="56.0" height="0.7" fill="#000" fill-opacity="0.13"/>
<rect x="41.0" y="350.9" width="56.0" height="0.7" fill="#000" fill-opacity="0.14"/>
<rect x="41.0" y="362.4" width="56.0" height="1.0" fill="#000" fill-opacity="0.15"/>
<rect x="41.0" y="392.9" width="56.0" height="0.6" fill="#000" fill-opacity="0.09"/>
<rect x="41.0" y="389.4" width="56.0" height="1.0" fill="#000" fill-opacity="0.09"/>
<rect x="41.0" y="336.9" width="56.0" height="0.5" fill="#000" fill-opacity="0.13"/>
<rect x="41.0" y="478.3" width="56.0" height="0.7" fill="#000" fill-opacity="0.10"/>
<rect x="41.0" y="413.5" width="56.0" height="0.8" fill="#000" fill-opacity="0.07"/>
<rect x="41.0" y="422.1" width="56.0" height="0.7" fill="#000" fill-opacity="0.11"/>
<rect x="41.0" y="359.4" width="56.0" height="0.5" fill="#000" fill-opacity="0.08"/>
<rect x="41.0" y="468.6" width="56.0" height="0.6" fill="#000" fill-opacity="0.11"/>
<rect x="41.0" y="377.9" width="56.0" height="0.5" fill="#000" fill-opacity="0.05"/>
<rect x="41.0" y="452.0" width="56.0" height="0.9" fill="#000" fill-opacity="0.08"/>
<rect x="41.0" y="433.0" width="56.0" height="0.8" fill="#000" fill-opacity="0.15"/>
<rect x="41.0" y="473.2" width="56.0" height="0.6" fill="#000" fill-opacity="0.16"/>
<rect x="41.0" y="473.7" width="56.0" height="0.8" fill="#000" fill-opacity="0.15"/>
<rect x="41.0" y="404.8" width="56.0" height="0.6" fill="#000" fill-opacity="0.07"/>
<rect x="41.0" y="461.2" width="56.0" height="0.5" fill="#000" fill-opacity="0.05"/>
<rect x="41.0" y="450.8" width="56.0" height="0.9" fill="#000" fill-opacity="0.10"/>
<rect x="41.0" y="455.5" width="56.0" height="0.4" fill="#000" fill-opacity="0.07"/>
<rect x="41.0" y="375.4" width="56.0" height="0.7" fill="#000" fill-opacity="0.06"/>
<rect x="41.0" y="343.2" width="56.0" height="0.6" fill="#000" fill-opacity="0.15"/>
<rect x="41.0" y="476.9" width="56.0" height="0.8" fill="#000" fill-opacity="0.10"/>
<rect x="41.0" y="369.9" width="56.0" height="1.0" fill="#000" fill-opacity="0.10"/>
<rect x="41.0" y="439.6" width="56.0" height="0.4" fill="#000" fill-opacity="0.07"/>
<rect x="41.0" y="455.6" width="56.0" height="0.9" fill="#000" fill-opacity="0.15"/>
<rect x="41.0" y="421.0" width="56.0" height="0.7" fill="#000" fill-opacity="0.11"/>
<rect x="41.0" y="457.3" width="56.0" height="0.6" fill="#000" fill-opacity="0.10"/>
<rect x="41.0" y="373.4" width="56.0" height="0.9" fill="#000" fill-opacity="0.04"/>
<rect x="41.0" y="433.3" width="56.0" height="1.0" fill="#000" fill-opacity="0.04"/>
<rect x="41.0" y="333.0" width="56.0" height="146.3" filter="url(#noise)" opacity="0.35"/>
<rect x="123.0" y="419.9" width="56.0" height="0.8" fill="#000" fill-opacity="0.14"/>
<rect x="123.0" y="418.5" width="56.0" height="0.6" fill="#000" fill-opacity="0.09"/>
<rect x="123.0" y="473.3" width="56.0" height="0.9" fill="#000" fill-opacity="0.06"/>
<rect x="123.0" y="346.9" width="56.0" height="0.5" fill="#000" fill-opacity="0.04"/>
<rect x="123.0" y="398.4" width="56.0" height="0.5" fill="#000" fill-opacity="0.14"/>
<rect x="123.0" y="428.9" width="56.0" height="0.5" fill="#000" fill-opacity="0.10"/>
<rect x="123.0" y="380.4" width="56.0" height="0.7" fill="#000" fill-opacity="0.07"/>
<rect x="123.0" y="357.3" width="56.0" height="0.5" fill="#000" fill-opacity="0.09"/>
<rect x="123.0" y="436.9" width="56.0" height="0.7" fill="#000" fill-opacity="0.05"/>
<rect x="123.0" y="437.0" width="56.0" height="0.9" fill="#000" fill-opacity="0.13"/>
<rect x="123.0" y="448.7" width="56.0" height="0.4" fill="#000" fill-opacity="0.10"/>
<rect x="123.0" y="342.3" width="56.0" height="0.9" fill="#000" fill-opacity="0.06"/>
<rect x="123.0" y="437.1" width="56.0" height="0.6" fill="#000" fill-opacity="0.12"/>
<rect x="123.0" y="378.9" width="56.0" height="0.4" fill="#000" fill-opacity="0.09"/>
<rect x="123.0" y="378.3" width="56.0" height="0.9" fill="#000" fill-opacity="0.08"/>
<rect x="123.0" y="406.6" width="56.0" height="0.7" fill="#000" fill-opacity="0.15"/>
<rect x="123.0" y="347.4" width="56.0" height="0.8" fill="#000" fill-opacity="0.10"/>
<rect x="123.0" y="440.5" width="56.0" height="1.0" fill="#000" fill-opacity="0.08"/>
<rect x="123.0" y="435.3" width="56.0" height="0.7" fill="#000" fill-opacity="0.11"/>
<rect x="123.0" y="342.3" width="56.0" height="0.9" fill="#000" fill-opacity="0.16"/>
<rect x="123.0" y="385.0" width="56.0" height="0.6" fill="#000" fill-opacity="0.16"/>
<rect x="123.0" y="348.7" width="56.0" height="0.4" fill="#000" fill-opacity="0.05"/>
<rect x="123.0" y="452.1" width="56.0" height="0.9" fill="#000" fill-opacity="0.09"/>
<rect x="123.0" y="423.9" width="56.0" height="0.4" fill="#000" fill-opacity="0.12"/>
<rect x="123.0" y="397.8" width="56.0" height="0.7" fill="#000" fill-opacity="0.09"/>
<rect x="123.0" y="391.7" width="56.0" height="0.5" fill="#000" fill-opacity="0.05"/>
<rect x="123.0" y="396.5" width="56.0" height="0.5" fill="#000" fill-opacity="0.12"/>
<rect x="123.0" y="452.6" width="56.0" height="0.8" fill="#000" fill-opacity="0.09"/>
<rect x="123.0" y="367.6" width="56.0" height="0.6" fill="#000" fill-opacity="0.10"/>
<rect x="123.0" y="425.4" width="56.0" height="1.0" fill="#000" fill-opacity="0.05"/>
<rect x="123.0" y="403.2" width="56.0" height="0.7" fill="#000" fill-opacity="0.13"/>
<rect x="123.0" y="463.3" width="56.0" height="0.9" fill="#000" fill-opacity="0.12"/>
<rect x="123.0" y="444.0" width="56.0" height="0.8" fill="#000" fill-opacity="0.14"/>
<rect x="123.0" y="435.3" width="56.0" height="0.8" fill="#000" fill-opacity="0.07"/>
<rect x="123.0" y="467.1" width="56.0" height="0.6" fill="#000" fill-opacity="0.11"/>
<rect x="123.0" y="453.7" width="56.0" height="1.0" fill="#000" fill-opacity="0.16"/>
<rect x="123.0" y="333.9" width="56.0" height="0.6" fill="#000" fill-opacity="0.08"/>
<rect x="123.0" y="390.2" width="56.0" height="0.5" fill="#000" fill-opacity="0.11"/>
<rect x="123.0" y="344.6" width="56.0" height="0.6" fill="#000" fill-opacity="0.15"/>
<rect x="123.0" y="441.6" width="56.0" height="0.7" fill="#000" fill-opacity="0.05"/>
<rect x="123.0" y="472.9" width="56.0" height="0.8" fill="#000" fill-opacity="0.06"/>
<rect x="123.0" y="382.1" width="56.0" height="0.8" fill="#000" fill-opacity="0.12"/>
<rect x="123.0" y="371.2" width="56.0" height="1.0" fill="#000" fill-opacity="0.08"/>
<rect x="123.0" y="370.2" width="56.0" height="0.9" fill="#000" fill-opacity="0.06"/>
<rect x="123.0" y="432.7" width="56.0" height="0.5" fill="#000" fill-opacity="0.11"/>
<rect x="123.0" y="333.0" width="56.0" height="146.3" filter="url(#noise)" opacity="0.35"/>
<clipPath id="hm1clip"><rect x="41" y="333" width="56" height="146.3"/></clipPath>
<g clip-path="url(#hm1clip)"><polygon points="64.5,333 70.5,333 74,400 80,470 60,470 62,400" fill="#000" opacity="0.75" filter="url(#blur1)"/></g>
<rect x="41.00" y="333.00" width="56.00" height="146.30" fill="url(#vf1)"/>
<linearGradient id="topdark" x1="0" x2="0" y1="0" y2="1"><stop offset="0" stop-color="#000" stop-opacity="0.65"/><stop offset="1" stop-color="#000" stop-opacity="0"/></linearGradient>
<clipPath id="hm2clip"><rect x="123" y="333" width="56" height="146.3"/></clipPath>
<g clip-path="url(#hm2clip)" filter="url(#blur1)">
<rect x="121.00" y="333.00" width="15.50" height="60.00" fill="url(#topdark)"/>
<rect x="167.00" y="333.00" width="14.00" height="45.00" fill="url(#topdark)"/>
<polygon points="146,333 155.5,333 154.5,370 149.5,372" fill="#000" opacity="0.7"/>
</g>
<rect x="123.00" y="333.00" width="56.00" height="146.30" fill="url(#vf2)"/>
<text x="68.50" y="491.32" font-size="8.4" text-anchor="middle" textLength="46" lengthAdjust="spacingAndGlyphs" stroke="#231f20" stroke-width="0.14" fill="#231f20">Presentation</text>
<text x="151.20" y="491.32" font-size="8.4" text-anchor="middle" textLength="30" lengthAdjust="spacingAndGlyphs" stroke="#231f20" stroke-width="0.14" fill="#231f20">Relapse</text>
<text x="3.00" y="532.40" font-size="11.8" font-weight="bold" stroke="#231f20" stroke-width="0.45" fill="#231f20">E</text>
<rect x="21.50" y="532.80" width="142.50" height="14.80" fill="#1c5592"/>
<text x="45.00" y="543.29" font-size="8.3" text-anchor="middle" font-weight="bold" textLength="19.2" lengthAdjust="spacingAndGlyphs" fill="#ffffff">Motif</text>
<text x="83.60" y="543.29" font-size="8.3" text-anchor="middle" font-weight="bold" textLength="21.8" lengthAdjust="spacingAndGlyphs" fill="#ffffff">Match</text>
<text x="119.05" y="543.29" font-size="8.3" text-anchor="middle" font-weight="bold" textLength="19.7" lengthAdjust="spacingAndGlyphs" fill="#ffffff">Log p</text>
<text x="151.70" y="543.29" font-size="8.3" text-anchor="middle" font-weight="bold" textLength="18" lengthAdjust="spacingAndGlyphs" fill="#ffffff">% FP</text>
<rect x="21.50" y="547.60" width="142.50" height="18.90" fill="#e3e8ef"/>
<text x="83.60" y="559.91" font-size="7.4" text-anchor="middle" stroke="#2a2a2a" stroke-width="0.1" fill="#2a2a2a">ETS</text>
<text x="119.65" y="559.91" font-size="7.4" text-anchor="middle" textLength="30.4" lengthAdjust="spacingAndGlyphs" stroke="#2a2a2a" stroke-width="0.1" fill="#2a2a2a">–6.7e+03</text>
<text x="151.70" y="559.91" font-size="7.4" text-anchor="middle" stroke="#2a2a2a" stroke-width="0.1" fill="#2a2a2a">18.4</text>
<text transform="translate(24.20,562.50) scale(0.712,0.316)" font-size="10" font-weight="bold" fill="#27a33a">A</text>
<text transform="translate(24.20,560.17) scale(0.660,0.316)" font-size="10" font-weight="bold" fill="#f4a31f">G</text>
<text transform="translate(24.20,557.84) scale(0.712,0.711)" font-size="10" font-weight="bold" fill="#1d2a8c">C</text>
<text transform="translate(29.34,562.50) scale(0.712,1.580)" font-size="10" font-weight="bold" fill="#27a33a">A</text>
<text transform="translate(34.47,562.50) scale(0.660,1.580)" font-size="10" font-weight="bold" fill="#f4a31f">G</text>
<text transform="translate(39.61,562.50) scale(0.660,1.580)" font-size="10" font-weight="bold" fill="#f4a31f">G</text>
<text transform="translate(44.75,562.50) scale(0.712,1.580)" font-size="10" font-weight="bold" fill="#27a33a">A</text>
<text transform="translate(49.89,562.50) scale(0.712,1.580)" font-size="10" font-weight="bold" fill="#27a33a">A</text>
<text transform="translate(55.02,562.50) scale(0.712,0.553)" font-size="10" font-weight="bold" fill="#27a33a">A</text>
<text transform="translate(55.02,558.53) scale(0.660,0.869)" font-size="10" font-weight="bold" fill="#f4a31f">G</text>
<text transform="translate(60.16,562.50) scale(0.712,0.237)" font-size="10" font-weight="bold" fill="#1d2a8c">C</text>
<text transform="translate(60.16,560.72) scale(0.841,1.343)" font-size="10" font-weight="bold" fill="#e0242c">T</text>
<rect x="21.50" y="566.50" width="142.50" height="16.40" fill="#c7d3df"/>
<text x="83.60" y="577.56" font-size="7.4" text-anchor="middle" stroke="#2a2a2a" stroke-width="0.1" fill="#2a2a2a">RUNX</text>
<text x="119.65" y="577.56" font-size="7.4" text-anchor="middle" textLength="30.4" lengthAdjust="spacingAndGlyphs" stroke="#2a2a2a" stroke-width="0.1" fill="#2a2a2a">–5.1e+03</text>
<text x="151.70" y="577.56" font-size="7.4" text-anchor="middle" stroke="#2a2a2a" stroke-width="0.1" fill="#2a2a2a">10.5</text>
<text transform="translate(24.20,580.30) scale(0.569,0.478)" font-size="10" font-weight="bold" fill="#27a33a">A</text>
<text transform="translate(24.20,576.85) scale(0.673,0.478)" font-size="10" font-weight="bold" fill="#e0242c">T</text>
<text transform="translate(24.20,573.40) scale(0.569,0.558)" font-size="10" font-weight="bold" fill="#1d2a8c">C</text>
<text transform="translate(28.31,580.30) scale(0.569,0.319)" font-size="10" font-weight="bold" fill="#1d2a8c">C</text>
<text transform="translate(28.31,577.95) scale(0.673,1.196)" font-size="10" font-weight="bold" fill="#e0242c">T</text>
<text transform="translate(32.42,580.30) scale(0.569,0.478)" font-size="10" font-weight="bold" fill="#1d2a8c">C</text>
<text transform="translate(32.42,576.85) scale(0.528,0.957)" font-size="10" font-weight="bold" fill="#f4a31f">G</text>
<text transform="translate(36.53,580.30) scale(0.569,1.514)" font-size="10" font-weight="bold" fill="#27a33a">A</text>
<text transform="translate(40.64,580.30) scale(0.569,1.514)" font-size="10" font-weight="bold" fill="#27a33a">A</text>
<text transform="translate(44.75,580.30) scale(0.569,1.594)" font-size="10" font-weight="bold" fill="#1d2a8c">C</text>
<text transform="translate(48.86,580.30) scale(0.569,1.594)" font-size="10" font-weight="bold" fill="#1d2a8c">C</text>
<text transform="translate(52.97,580.30) scale(0.528,0.558)" font-size="10" font-weight="bold" fill="#f4a31f">G</text>
<text transform="translate(52.97,576.30) scale(0.569,0.877)" font-size="10" font-weight="bold" fill="#27a33a">A</text>
<text transform="translate(57.08,580.30) scale(0.569,1.594)" font-size="10" font-weight="bold" fill="#1d2a8c">C</text>
<text transform="translate(61.19,580.30) scale(0.528,0.478)" font-size="10" font-weight="bold" fill="#f4a31f">G</text>
<text transform="translate(61.19,576.85) scale(0.569,0.957)" font-size="10" font-weight="bold" fill="#27a33a">A</text>
<rect x="21.50" y="582.90" width="142.50" height="16.40" fill="#e3e8ef"/>
<text x="83.60" y="593.96" font-size="7.4" text-anchor="middle" stroke="#2a2a2a" stroke-width="0.1" fill="#2a2a2a">AP-1</text>
<text x="119.65" y="593.96" font-size="7.4" text-anchor="middle" textLength="30.4" lengthAdjust="spacingAndGlyphs" stroke="#2a2a2a" stroke-width="0.1" fill="#2a2a2a">–5.9e+03</text>
<text x="151.70" y="593.96" font-size="7.4" text-anchor="middle" stroke="#2a2a2a" stroke-width="0.1" fill="#2a2a2a">7.5</text>
<text transform="translate(24.20,596.70) scale(0.569,1.435)" font-size="10" font-weight="bold" fill="#27a33a">A</text>
<text transform="translate(28.31,596.70) scale(0.673,1.594)" font-size="10" font-weight="bold" fill="#e0242c">T</text>
<text transform="translate(32.42,596.70) scale(0.528,1.594)" font-size="10" font-weight="bold" fill="#f4a31f">G</text>
<text transform="translate(36.53,596.70) scale(0.528,0.399)" font-size="10" font-weight="bold" fill="#f4a31f">G</text>
<text transform="translate(36.53,593.80) scale(0.569,1.116)" font-size="10" font-weight="bold" fill="#27a33a">A</text>
<text transform="translate(40.64,596.70) scale(0.673,0.478)" font-size="10" font-weight="bold" fill="#e0242c">T</text>
<text transform="translate(40.64,593.25) scale(0.528,0.319)" font-size="10" font-weight="bold" fill="#f4a31f">G</text>
<text transform="translate(40.64,590.90) scale(0.569,0.717)" font-size="10" font-weight="bold" fill="#1d2a8c">C</text>
<text transform="translate(44.75,596.70) scale(0.673,1.594)" font-size="10" font-weight="bold" fill="#e0242c">T</text>
<text transform="translate(48.86,596.70) scale(0.569,1.594)" font-size="10" font-weight="bold" fill="#1d2a8c">C</text>
<text transform="translate(52.97,596.70) scale(0.528,0.478)" font-size="10" font-weight="bold" fill="#f4a31f">G</text>
<text transform="translate(52.97,593.25) scale(0.569,0.957)" font-size="10" font-weight="bold" fill="#27a33a">A</text>
<text transform="translate(57.08,596.70) scale(0.528,0.478)" font-size="10" font-weight="bold" fill="#f4a31f">G</text>
<text transform="translate(57.08,593.25) scale(0.673,0.957)" font-size="10" font-weight="bold" fill="#e0242c">T</text>
<text transform="translate(61.19,596.70) scale(0.569,0.319)" font-size="10" font-weight="bold" fill="#27a33a">A</text>
<text transform="translate(61.19,594.35) scale(0.569,0.957)" font-size="10" font-weight="bold" fill="#1d2a8c">C</text>
<rect x="21.50" y="599.30" width="142.50" height="16.40" fill="#c7d3df"/>
<text x="83.60" y="610.36" font-size="7.4" text-anchor="middle" stroke="#2a2a2a" stroke-width="0.1" fill="#2a2a2a">C/EBP</text>
<text x="119.65" y="610.36" font-size="7.4" text-anchor="middle" textLength="30.4" lengthAdjust="spacingAndGlyphs" stroke="#2a2a2a" stroke-width="0.1" fill="#2a2a2a">–2.9e+03</text>
<text x="151.70" y="610.36" font-size="7.4" text-anchor="middle" stroke="#2a2a2a" stroke-width="0.1" fill="#2a2a2a">5.9</text>
<text transform="translate(24.20,613.10) scale(0.480,0.319)" font-size="10" font-weight="bold" fill="#f4a31f">G</text>
<text transform="translate(24.20,610.75) scale(0.518,0.478)" font-size="10" font-weight="bold" fill="#27a33a">A</text>
<text transform="translate(24.20,607.30) scale(0.612,0.478)" font-size="10" font-weight="bold" fill="#e0242c">T</text>
<text transform="translate(27.94,613.10) scale(0.518,1.435)" font-size="10" font-weight="bold" fill="#27a33a">A</text>
<text transform="translate(31.67,613.10) scale(0.612,1.594)" font-size="10" font-weight="bold" fill="#e0242c">T</text>
<text transform="translate(35.41,613.10) scale(0.612,1.594)" font-size="10" font-weight="bold" fill="#e0242c">T</text>
<text transform="translate(39.15,613.10) scale(0.518,0.319)" font-size="10" font-weight="bold" fill="#27a33a">A</text>
<text transform="translate(39.15,610.75) scale(0.480,1.116)" font-size="10" font-weight="bold" fill="#f4a31f">G</text>
<text transform="translate(42.88,613.10) scale(0.518,1.435)" font-size="10" font-weight="bold" fill="#1d2a8c">C</text>
<text transform="translate(46.62,613.10) scale(0.612,0.239)" font-size="10" font-weight="bold" fill="#e0242c">T</text>
<text transform="translate(46.62,611.30) scale(0.518,0.957)" font-size="10" font-weight="bold" fill="#27a33a">A</text>
<text transform="translate(50.35,613.10) scale(0.518,0.478)" font-size="10" font-weight="bold" fill="#1d2a8c">C</text>
<text transform="translate(50.35,609.65) scale(0.480,0.239)" font-size="10" font-weight="bold" fill="#f4a31f">G</text>
<text transform="translate(50.35,607.85) scale(0.518,0.638)" font-size="10" font-weight="bold" fill="#27a33a">A</text>
<text transform="translate(54.09,613.10) scale(0.518,1.435)" font-size="10" font-weight="bold" fill="#27a33a">A</text>
<text transform="translate(57.83,613.10) scale(0.480,0.478)" font-size="10" font-weight="bold" fill="#f4a31f">G</text>
<text transform="translate(57.83,609.65) scale(0.518,0.877)" font-size="10" font-weight="bold" fill="#27a33a">A</text>
<text transform="translate(61.56,613.10) scale(0.612,0.478)" font-size="10" font-weight="bold" fill="#e0242c">T</text>
<text transform="translate(61.56,609.65) scale(0.518,0.797)" font-size="10" font-weight="bold" fill="#1d2a8c">C</text>
<rect x="21.50" y="615.70" width="142.50" height="16.40" fill="#e3e8ef"/>
<text x="83.60" y="626.76" font-size="7.4" text-anchor="middle" stroke="#2a2a2a" stroke-width="0.1" fill="#2a2a2a">IRF</text>
<text x="119.65" y="626.76" font-size="7.4" text-anchor="middle" textLength="30.4" lengthAdjust="spacingAndGlyphs" stroke="#2a2a2a" stroke-width="0.1" fill="#2a2a2a">–2.7e+03</text>
<text x="151.70" y="626.76" font-size="7.4" text-anchor="middle" stroke="#2a2a2a" stroke-width="0.1" fill="#2a2a2a">2.6</text>
<text transform="translate(24.20,629.50) scale(0.474,0.478)" font-size="10" font-weight="bold" fill="#27a33a">A</text>
<text transform="translate(24.20,626.05) scale(0.440,0.797)" font-size="10" font-weight="bold" fill="#f4a31f">G</text>
<text transform="translate(27.62,629.50) scale(0.474,1.275)" font-size="10" font-weight="bold" fill="#27a33a">A</text>
<text transform="translate(31.05,629.50) scale(0.474,1.355)" font-size="10" font-weight="bold" fill="#27a33a">A</text>
<text transform="translate(34.47,629.50) scale(0.440,0.478)" font-size="10" font-weight="bold" fill="#f4a31f">G</text>
<text transform="translate(34.47,626.05) scale(0.474,0.797)" font-size="10" font-weight="bold" fill="#27a33a">A</text>
<text transform="translate(37.90,629.50) scale(0.474,0.319)" font-size="10" font-weight="bold" fill="#1d2a8c">C</text>
<text transform="translate(37.90,627.15) scale(0.440,1.116)" font-size="10" font-weight="bold" fill="#f4a31f">G</text>
<text transform="translate(41.32,629.50) scale(0.561,1.355)" font-size="10" font-weight="bold" fill="#e0242c">T</text>
<text transform="translate(44.75,629.50) scale(0.440,1.355)" font-size="10" font-weight="bold" fill="#f4a31f">G</text>
<text transform="translate(48.17,629.50) scale(0.474,1.435)" font-size="10" font-weight="bold" fill="#27a33a">A</text>
<text transform="translate(51.60,629.50) scale(0.474,1.435)" font-size="10" font-weight="bold" fill="#27a33a">A</text>
<text transform="translate(55.02,629.50) scale(0.440,0.478)" font-size="10" font-weight="bold" fill="#f4a31f">G</text>
<text transform="translate(55.02,626.05) scale(0.474,0.877)" font-size="10" font-weight="bold" fill="#27a33a">A</text>
<text transform="translate(58.45,629.50) scale(0.474,1.036)" font-size="10" font-weight="bold" fill="#1d2a8c">C</text>
<text transform="translate(61.87,629.50) scale(0.561,1.275)" font-size="10" font-weight="bold" fill="#e0242c">T</text>
<rect x="21.50" y="632.10" width="142.50" height="16.40" fill="#c7d3df"/>
<text x="83.60" y="643.16" font-size="7.4" text-anchor="middle" stroke="#2a2a2a" stroke-width="0.1" fill="#2a2a2a">CTCF</text>
<text x="119.65" y="643.16" font-size="7.4" text-anchor="middle" textLength="30.4" lengthAdjust="spacingAndGlyphs" stroke="#2a2a2a" stroke-width="0.1" fill="#2a2a2a">–1.4e+03</text>
<text x="151.70" y="643.16" font-size="7.4" text-anchor="middle" stroke="#2a2a2a" stroke-width="0.1" fill="#2a2a2a">1.4</text>
<text transform="translate(24.20,645.90) scale(0.561,0.319)" font-size="10" font-weight="bold" fill="#e0242c">T</text>
<text transform="translate(24.20,643.55) scale(0.474,0.319)" font-size="10" font-weight="bold" fill="#27a33a">A</text>
<text transform="translate(24.20,641.20) scale(0.474,0.478)" font-size="10" font-weight="bold" fill="#1d2a8c">C</text>
<text transform="translate(27.62,645.90) scale(0.440,0.478)" font-size="10" font-weight="bold" fill="#f4a31f">G</text>
<text transform="translate(27.62,642.45) scale(0.474,0.797)" font-size="10" font-weight="bold" fill="#1d2a8c">C</text>
<text transform="translate(31.05,645.90) scale(0.474,0.478)" font-size="10" font-weight="bold" fill="#27a33a">A</text>
<text transform="translate(31.05,642.45) scale(0.440,0.478)" font-size="10" font-weight="bold" fill="#f4a31f">G</text>
<text transform="translate(34.47,645.90) scale(0.474,1.275)" font-size="10" font-weight="bold" fill="#1d2a8c">C</text>
<text transform="translate(37.90,645.90) scale(0.474,1.275)" font-size="10" font-weight="bold" fill="#1d2a8c">C</text>
<text transform="translate(41.32,645.90) scale(0.440,0.638)" font-size="10" font-weight="bold" fill="#f4a31f">G</text>
<text transform="translate(41.32,641.35) scale(0.474,0.638)" font-size="10" font-weight="bold" fill="#27a33a">A</text>
<text transform="translate(44.75,645.90) scale(0.474,0.797)" font-size="10" font-weight="bold" fill="#1d2a8c">C</text>
<text transform="translate(44.75,640.25) scale(0.440,0.478)" font-size="10" font-weight="bold" fill="#f4a31f">G</text>
<text transform="translate(48.17,645.90) scale(0.474,1.275)" font-size="10" font-weight="bold" fill="#1d2a8c">C</text>
<text transform="translate(51.60,645.90) scale(0.561,1.435)" font-size="10" font-weight="bold" fill="#e0242c">T</text>
<text transform="translate(55.02,645.90) scale(0.474,0.478)" font-size="10" font-weight="bold" fill="#27a33a">A</text>
<text transform="translate(55.02,642.45) scale(0.440,0.877)" font-size="10" font-weight="bold" fill="#f4a31f">G</text>
<text transform="translate(58.45,645.90) scale(0.561,0.638)" font-size="10" font-weight="bold" fill="#e0242c">T</text>
<text transform="translate(58.45,641.35) scale(0.440,0.638)" font-size="10" font-weight="bold" fill="#f4a31f">G</text>
<text transform="translate(61.87,645.90) scale(0.440,1.275)" font-size="10" font-weight="bold" fill="#f4a31f">G</text>
<rect x="21.50" y="648.50" width="142.50" height="16.40" fill="#e3e8ef"/>
<text x="83.60" y="659.56" font-size="7.4" text-anchor="middle" stroke="#2a2a2a" stroke-width="0.1" fill="#2a2a2a">MEF2A</text>
<text x="119.65" y="659.56" font-size="7.4" text-anchor="middle" textLength="30.4" lengthAdjust="spacingAndGlyphs" stroke="#2a2a2a" stroke-width="0.1" fill="#2a2a2a">–5.0E+02</text>
<text x="151.70" y="659.56" font-size="7.4" text-anchor="middle" stroke="#2a2a2a" stroke-width="0.1" fill="#2a2a2a">1.0</text>
<text transform="translate(24.20,662.30) scale(0.480,0.478)" font-size="10" font-weight="bold" fill="#f4a31f">G</text>
<text transform="translate(24.20,658.85) scale(0.518,0.797)" font-size="10" font-weight="bold" fill="#1d2a8c">C</text>
<text transform="translate(27.94,662.30) scale(0.612,1.355)" font-size="10" font-weight="bold" fill="#e0242c">T</text>
<text transform="translate(31.67,662.30) scale(0.518,1.435)" font-size="10" font-weight="bold" fill="#27a33a">A</text>
<text transform="translate(35.41,662.30) scale(0.612,1.594)" font-size="10" font-weight="bold" fill="#e0242c">T</text>
<text transform="translate(39.15,662.30) scale(0.612,1.594)" font-size="10" font-weight="bold" fill="#e0242c">T</text>
<text transform="translate(42.88,662.30) scale(0.612,1.594)" font-size="10" font-weight="bold" fill="#e0242c">T</text>
<text transform="translate(46.62,662.30) scale(0.612,1.594)" font-size="10" font-weight="bold" fill="#e0242c">T</text>
<text transform="translate(50.35,662.30) scale(0.612,1.594)" font-size="10" font-weight="bold" fill="#e0242c">T</text>
<text transform="translate(54.09,662.30) scale(0.518,1.435)" font-size="10" font-weight="bold" fill="#27a33a">A</text>
<text transform="translate(57.83,662.30) scale(0.518,0.478)" font-size="10" font-weight="bold" fill="#27a33a">A</text>
<text transform="translate(57.83,658.85) scale(0.480,0.877)" font-size="10" font-weight="bold" fill="#f4a31f">G</text>
<text transform="translate(61.56,662.30) scale(0.518,0.478)" font-size="10" font-weight="bold" fill="#27a33a">A</text>
<text transform="translate(61.56,658.85) scale(0.518,0.478)" font-size="10" font-weight="bold" fill="#1d2a8c">C</text>
<text transform="translate(61.56,655.40) scale(0.480,0.319)" font-size="10" font-weight="bold" fill="#f4a31f">G</text>
<rect x="21.50" y="664.90" width="142.50" height="16.40" fill="#c7d3df"/>
<text x="83.60" y="675.96" font-size="7.4" text-anchor="middle" stroke="#2a2a2a" stroke-width="0.1" fill="#2a2a2a">NF-kB</text>
<text x="119.65" y="675.96" font-size="7.4" text-anchor="middle" textLength="30.4" lengthAdjust="spacingAndGlyphs" stroke="#2a2a2a" stroke-width="0.1" fill="#2a2a2a">–2.9E+02</text>
<text x="151.70" y="675.96" font-size="7.4" text-anchor="middle" stroke="#2a2a2a" stroke-width="0.1" fill="#2a2a2a">1.0</text>
<text transform="translate(24.20,678.70) scale(0.561,0.478)" font-size="10" font-weight="bold" fill="#e0242c">T</text>
<text transform="translate(24.20,675.25) scale(0.440,0.797)" font-size="10" font-weight="bold" fill="#f4a31f">G</text>
<text transform="translate(27.62,678.70) scale(0.440,1.435)" font-size="10" font-weight="bold" fill="#f4a31f">G</text>
<text transform="translate(31.05,678.70) scale(0.440,1.435)" font-size="10" font-weight="bold" fill="#f4a31f">G</text>
<text transform="translate(34.47,678.70) scale(0.474,0.478)" font-size="10" font-weight="bold" fill="#27a33a">A</text>
<text transform="translate(34.47,675.25) scale(0.440,0.957)" font-size="10" font-weight="bold" fill="#f4a31f">G</text>
<text transform="translate(37.90,678.70) scale(0.474,1.435)" font-size="10" font-weight="bold" fill="#27a33a">A</text>
<text transform="translate(41.32,678.70) scale(0.474,0.957)" font-size="10" font-weight="bold" fill="#27a33a">A</text>
<text transform="translate(41.32,671.95) scale(0.561,0.478)" font-size="10" font-weight="bold" fill="#e0242c">T</text>
<text transform="translate(44.75,678.70) scale(0.561,1.435)" font-size="10" font-weight="bold" fill="#e0242c">T</text>
<text transform="translate(48.17,678.70) scale(0.561,1.435)" font-size="10" font-weight="bold" fill="#e0242c">T</text>
<text transform="translate(51.60,678.70) scale(0.474,0.638)" font-size="10" font-weight="bold" fill="#1d2a8c">C</text>
<text transform="translate(51.60,674.15) scale(0.561,0.638)" font-size="10" font-weight="bold" fill="#e0242c">T</text>
<text transform="translate(55.02,678.70) scale(0.474,1.435)" font-size="10" font-weight="bold" fill="#1d2a8c">C</text>
<text transform="translate(58.45,678.70) scale(0.474,1.275)" font-size="10" font-weight="bold" fill="#1d2a8c">C</text>
<text transform="translate(61.87,678.70) scale(0.474,1.355)" font-size="10" font-weight="bold" fill="#1d2a8c">C</text>
<line x1="68.50" y1="532.80" x2="68.50" y2="681.30" stroke="#ffffff" stroke-width="0.9"/>
<line x1="98.70" y1="532.80" x2="98.70" y2="681.30" stroke="#ffffff" stroke-width="0.9"/>
<line x1="139.40" y1="532.80" x2="139.40" y2="681.30" stroke="#ffffff" stroke-width="0.9"/>
<line x1="21.50" y1="547.60" x2="164.00" y2="547.60" stroke="#ffffff" stroke-width="0.6"/>
<text x="202.20" y="565.70" font-size="11.8" font-weight="bold" stroke="#231f20" stroke-width="0.45" fill="#231f20">F</text>
<text x="280.00" y="566.57" font-size="8.8" text-anchor="middle" textLength="42.5" lengthAdjust="spacingAndGlyphs" stroke="#231f20" stroke-width="0.14" fill="#231f20">EBF motif</text>
<line x1="279.20" y1="576.20" x2="279.20" y2="656.00" stroke="#231f20" stroke-width="1.25"/>
<line x1="210.20" y1="655.80" x2="348.40" y2="655.80" stroke="#231f20" stroke-width="1.25"/>
<line x1="276.20" y1="582.60" x2="279.20" y2="582.60" stroke="#231f20" stroke-width="0.8"/>
<text x="272.40" y="585.55" font-size="8.2" text-anchor="end" textLength="15" lengthAdjust="spacingAndGlyphs" stroke="#231f20" stroke-width="0.14" fill="#231f20">0.01</text>
<line x1="276.20" y1="597.20" x2="279.20" y2="597.20" stroke="#231f20" stroke-width="0.8"/>
<text x="272.40" y="600.15" font-size="8.2" text-anchor="end" textLength="19.6" lengthAdjust="spacingAndGlyphs" stroke="#231f20" stroke-width="0.14" fill="#231f20">0.008</text>
<line x1="276.20" y1="611.80" x2="279.20" y2="611.80" stroke="#231f20" stroke-width="0.8"/>
<text x="272.40" y="614.75" font-size="8.2" text-anchor="end" textLength="19.6" lengthAdjust="spacingAndGlyphs" stroke="#231f20" stroke-width="0.14" fill="#231f20">0.006</text>
<line x1="276.20" y1="626.50" x2="279.20" y2="626.50" stroke="#231f20" stroke-width="0.8"/>
<text x="272.40" y="629.45" font-size="8.2" text-anchor="end" textLength="19.6" lengthAdjust="spacingAndGlyphs" stroke="#231f20" stroke-width="0.14" fill="#231f20">0.004</text>
<line x1="276.20" y1="641.10" x2="279.20" y2="641.10" stroke="#231f20" stroke-width="0.8"/>
<text x="272.40" y="644.05" font-size="8.2" text-anchor="end" textLength="19.6" lengthAdjust="spacingAndGlyphs" stroke="#231f20" stroke-width="0.14" fill="#231f20">0.002</text>
<text x="213.00" y="669.45" font-size="8.2" text-anchor="middle" textLength="18.3" lengthAdjust="spacingAndGlyphs" stroke="#231f20" stroke-width="0.14" fill="#231f20">−500</text>
<text x="234.30" y="669.45" font-size="8.2" text-anchor="middle" textLength="17.3" lengthAdjust="spacingAndGlyphs" stroke="#231f20" stroke-width="0.14" fill="#231f20">−300</text>
<text x="255.60" y="669.45" font-size="8.2" text-anchor="middle" textLength="17.3" lengthAdjust="spacingAndGlyphs" stroke="#231f20" stroke-width="0.14" fill="#231f20">−100</text>
<text x="279.40" y="669.45" font-size="8.2" text-anchor="middle" textLength="4.3" lengthAdjust="spacingAndGlyphs" stroke="#231f20" stroke-width="0.14" fill="#231f20">0</text>
<text x="300.90" y="669.45" font-size="8.2" text-anchor="middle" textLength="12.5" lengthAdjust="spacingAndGlyphs" stroke="#231f20" stroke-width="0.14" fill="#231f20">100</text>
<text x="322.60" y="669.45" font-size="8.2" text-anchor="middle" textLength="12.5" lengthAdjust="spacingAndGlyphs" stroke="#231f20" stroke-width="0.14" fill="#231f20">300</text>
<text x="344.20" y="669.45" font-size="8.2" text-anchor="middle" textLength="12.5" lengthAdjust="spacingAndGlyphs" stroke="#231f20" stroke-width="0.14" fill="#231f20">500</text>
<line x1="214.70" y1="655.80" x2="214.70" y2="658.80" stroke="#231f20" stroke-width="0.8"/>
<line x1="236.30" y1="655.80" x2="236.30" y2="658.80" stroke="#231f20" stroke-width="0.8"/>
<line x1="257.90" y1="655.80" x2="257.90" y2="658.80" stroke="#231f20" stroke-width="0.8"/>
<line x1="279.50" y1="655.80" x2="279.50" y2="658.80" stroke="#231f20" stroke-width="0.8"/>
<line x1="301.10" y1="655.80" x2="301.10" y2="658.80" stroke="#231f20" stroke-width="0.8"/>
<line x1="322.70" y1="655.80" x2="322.70" y2="658.80" stroke="#231f20" stroke-width="0.8"/>
<line x1="344.30" y1="655.80" x2="344.30" y2="658.80" stroke="#231f20" stroke-width="0.8"/>
<text x="278.50" y="681.83" font-size="9.8" text-anchor="middle" textLength="75" lengthAdjust="spacingAndGlyphs" stroke="#231f20" stroke-width="0.14" fill="#231f20">Distance to center (bp)</text>
<line x1="300.00" y1="592.30" x2="308.50" y2="592.30" stroke="#1d4f8c" stroke-width="1.3"/>
<text x="310.80" y="595.00" font-size="7.5" textLength="42.2" lengthAdjust="spacingAndGlyphs" stroke="#231f20" stroke-width="0.14" fill="#231f20">Presentation</text>
<line x1="300.00" y1="603.10" x2="308.50" y2="603.10" stroke="#c8193c" stroke-width="1.3"/>
<text x="310.80" y="605.60" font-size="7.5" textLength="26.2" lengthAdjust="spacingAndGlyphs" stroke="#231f20" stroke-width="0.14" fill="#231f20">Relapse</text>
<text transform="translate(218.80,616.20) rotate(-90)" x="0" y="3.74" font-size="10.4" text-anchor="middle" textLength="44.7" lengthAdjust="spacingAndGlyphs" stroke="#231f20" stroke-width="0.14" fill="#231f20">Motif density</text>
<text x="438.30" y="566.57" font-size="8.8" text-anchor="middle" textLength="51.6" lengthAdjust="spacingAndGlyphs" stroke="#231f20" stroke-width="0.14" fill="#231f20">C/EBP motif</text>
<line x1="437.70" y1="576.20" x2="437.70" y2="656.00" stroke="#231f20" stroke-width="1.25"/>
<line x1="371.20" y1="655.80" x2="507.00" y2="655.80" stroke="#231f20" stroke-width="1.25"/>
<line x1="434.70" y1="580.00" x2="437.70" y2="580.00" stroke="#231f20" stroke-width="0.8"/>
<text x="430.90" y="582.95" font-size="8.2" text-anchor="end" textLength="19.8" lengthAdjust="spacingAndGlyphs" stroke="#231f20" stroke-width="0.14" fill="#231f20">0.006</text>
<line x1="434.70" y1="592.60" x2="437.70" y2="592.60" stroke="#231f20" stroke-width="0.8"/>
<text x="430.90" y="595.55" font-size="8.2" text-anchor="end" textLength="19.8" lengthAdjust="spacingAndGlyphs" stroke="#231f20" stroke-width="0.14" fill="#231f20">0.005</text>
<line x1="434.70" y1="605.20" x2="437.70" y2="605.20" stroke="#231f20" stroke-width="0.8"/>
<text x="430.90" y="608.15" font-size="8.2" text-anchor="end" textLength="19.8" lengthAdjust="spacingAndGlyphs" stroke="#231f20" stroke-width="0.14" fill="#231f20">0.004</text>
<line x1="434.70" y1="617.80" x2="437.70" y2="617.80" stroke="#231f20" stroke-width="0.8"/>
<text x="430.90" y="620.75" font-size="8.2" text-anchor="end" textLength="19.8" lengthAdjust="spacingAndGlyphs" stroke="#231f20" stroke-width="0.14" fill="#231f20">0.003</text>
<line x1="434.70" y1="630.40" x2="437.70" y2="630.40" stroke="#231f20" stroke-width="0.8"/>
<text x="430.90" y="633.35" font-size="8.2" text-anchor="end" textLength="19.8" lengthAdjust="spacingAndGlyphs" stroke="#231f20" stroke-width="0.14" fill="#231f20">0.002</text>
<line x1="434.70" y1="643.00" x2="437.70" y2="643.00" stroke="#231f20" stroke-width="0.8"/>
<text x="430.90" y="645.95" font-size="8.2" text-anchor="end" textLength="19.8" lengthAdjust="spacingAndGlyphs" stroke="#231f20" stroke-width="0.14" fill="#231f20">0.001</text>
<text x="372.50" y="669.45" font-size="8.2" text-anchor="middle" textLength="18.3" lengthAdjust="spacingAndGlyphs" stroke="#231f20" stroke-width="0.14" fill="#231f20">−500</text>
<text x="393.80" y="669.45" font-size="8.2" text-anchor="middle" textLength="17.3" lengthAdjust="spacingAndGlyphs" stroke="#231f20" stroke-width="0.14" fill="#231f20">−300</text>
<text x="415.20" y="669.45" font-size="8.2" text-anchor="middle" textLength="17.3" lengthAdjust="spacingAndGlyphs" stroke="#231f20" stroke-width="0.14" fill="#231f20">−100</text>
<text x="438.30" y="669.45" font-size="8.2" text-anchor="middle" textLength="4.3" lengthAdjust="spacingAndGlyphs" stroke="#231f20" stroke-width="0.14" fill="#231f20">0</text>
<text x="459.80" y="669.45" font-size="8.2" text-anchor="middle" textLength="12.5" lengthAdjust="spacingAndGlyphs" stroke="#231f20" stroke-width="0.14" fill="#231f20">100</text>
<text x="481.40" y="669.45" font-size="8.2" text-anchor="middle" textLength="12.5" lengthAdjust="spacingAndGlyphs" stroke="#231f20" stroke-width="0.14" fill="#231f20">300</text>
<text x="502.70" y="669.45" font-size="8.2" text-anchor="middle" textLength="12.5" lengthAdjust="spacingAndGlyphs" stroke="#231f20" stroke-width="0.14" fill="#231f20">500</text>
<line x1="374.00" y1="655.80" x2="374.00" y2="658.80" stroke="#231f20" stroke-width="0.8"/>
<line x1="395.00" y1="655.80" x2="395.00" y2="658.80" stroke="#231f20" stroke-width="0.8"/>
<line x1="416.50" y1="655.80" x2="416.50" y2="658.80" stroke="#231f20" stroke-width="0.8"/>
<line x1="438.30" y1="655.80" x2="438.30" y2="658.80" stroke="#231f20" stroke-width="0.8"/>
<line x1="459.80" y1="655.80" x2="459.80" y2="658.80" stroke="#231f20" stroke-width="0.8"/>
<line x1="481.40" y1="655.80" x2="481.40" y2="658.80" stroke="#231f20" stroke-width="0.8"/>
<line x1="502.70" y1="655.80" x2="502.70" y2="658.80" stroke="#231f20" stroke-width="0.8"/>
<text x="436.80" y="681.83" font-size="9.8" text-anchor="middle" textLength="75" lengthAdjust="spacingAndGlyphs" stroke="#231f20" stroke-width="0.14" fill="#231f20">Distance to center (bp)</text>
<line x1="459.20" y1="590.70" x2="467.70" y2="590.70" stroke="#1d4f8c" stroke-width="1.3"/>
<text x="470.00" y="593.40" font-size="7.5" textLength="42.2" lengthAdjust="spacingAndGlyphs" stroke="#231f20" stroke-width="0.14" fill="#231f20">Presentation</text>
<line x1="459.20" y1="601.50" x2="467.70" y2="601.50" stroke="#c8193c" stroke-width="1.3"/>
<text x="470.00" y="604.00" font-size="7.5" textLength="26.2" lengthAdjust="spacingAndGlyphs" stroke="#231f20" stroke-width="0.14" fill="#231f20">Relapse</text>
<text transform="translate(376.50,616.10) rotate(-90)" x="0" y="3.74" font-size="10.4" text-anchor="middle" textLength="43.5" lengthAdjust="spacingAndGlyphs" stroke="#231f20" stroke-width="0.14" fill="#231f20">Motif density</text>
<polyline points="211.00,654.80 230.00,654.60 250.00,654.00 257.00,653.00 261.00,651.50 264.00,650.00 267.00,651.20 270.00,650.20 272.50,649.50 275.00,651.50 277.00,650.50 278.30,644.00 279.00,597.70 279.60,597.70 280.40,644.00 281.50,651.00 283.00,653.00 286.00,650.00 288.00,651.00 290.00,650.80 293.00,652.50 296.00,652.00 300.00,653.50 305.00,653.50 310.00,654.20 320.00,654.60 347.00,654.80" fill="none" stroke="#1d4f8c" stroke-width="1.3" stroke-linejoin="round"/>
<polygon points="278.30,652.00 279.00,597.70 279.60,597.70 280.40,652.00" fill="#1d4f8c" stroke="none" stroke-width="1"/>
<polyline points="211.00,654.72 212.20,654.84 213.40,654.90 214.60,655.04 215.80,654.84 217.00,655.02 218.20,654.13 219.40,654.57 220.60,655.04 221.80,654.75 223.00,655.00 224.20,654.21 225.40,654.57 226.60,654.35 227.80,654.64 229.00,654.67 230.20,654.11 231.40,654.32 232.60,654.38 233.80,655.02 235.00,654.87 236.20,654.26 237.40,654.90 238.60,654.24 239.80,654.72 241.00,654.23 242.20,654.10 243.40,654.97 244.60,654.31 245.80,654.32 247.00,655.08 248.20,654.97 249.40,654.39 250.60,655.06 251.80,654.64 253.00,654.78 254.20,654.30 255.40,655.04 256.60,654.79 257.80,655.07 259.00,654.99 260.20,654.40 261.40,654.46 262.60,654.27 263.80,654.25 265.00,654.17 266.20,654.40 267.40,654.70 268.60,654.10 269.80,654.78 271.00,654.44 272.20,654.41 273.40,654.92 274.60,654.58 275.80,654.42 277.00,654.58 278.20,654.80 279.40,654.16 280.60,655.08 281.80,654.12 283.00,654.85 284.20,654.94 285.40,654.12 286.60,654.89 287.80,654.47 289.00,654.68 290.20,654.11 291.40,654.15 292.60,654.28 293.80,655.06 295.00,654.30 296.20,654.86 297.40,655.03 298.60,655.04 299.80,654.44 301.00,654.45 302.20,654.62 303.40,654.88 304.60,654.21 305.80,654.85 307.00,654.90 308.20,654.96 309.40,654.14 310.60,655.05 311.80,654.19 313.00,654.44 314.20,654.71 315.40,655.02 316.60,654.44 317.80,655.02 319.00,654.65 320.20,654.41 321.40,654.42 322.60,654.28 323.80,654.18 325.00,654.25 326.20,654.79 327.40,655.10 328.60,654.26 329.80,654.15 331.00,655.09 332.20,654.63 333.40,654.51 334.60,654.34 335.80,654.69 337.00,654.93 338.20,654.56 339.40,654.52 340.60,654.16 341.80,655.02 343.00,654.13 344.20,654.59 345.40,654.94 346.60,654.23 347.80,654.83" fill="none" stroke="#c8193c" stroke-width="1.5" stroke-linejoin="round"/>
<polyline points="372.00,649.94 373.30,649.80 374.60,649.42 375.90,650.59 377.20,649.21 378.50,650.00 379.80,650.64 381.10,649.33 382.40,650.09 383.70,650.19 385.00,649.27 386.30,649.81 387.60,650.33 388.90,649.92 390.20,650.36 391.50,649.45 392.80,649.58 394.10,649.38 395.40,650.01 396.70,650.68 398.00,650.14 399.30,650.44 400.60,649.81 401.90,650.39 403.20,649.36 404.50,649.67 405.80,650.28 407.10,650.36 408.40,649.87 409.70,649.34 411.00,649.63 412.30,649.54 413.60,649.65 414.90,650.50 416.20,649.52 417.50,650.62 420.00,650.50 425.00,651.00 428.00,649.00 430.00,648.00 432.00,650.50 434.00,651.00 436.00,648.50 437.40,645.00 437.80,640.00 438.30,645.00 439.20,649.00 441.00,648.00 444.00,647.50 447.00,649.80 450.00,650.20 453.00,651.20 456.00,650.00 458.00,650.21 459.30,648.89 460.60,649.41 461.90,649.59 463.20,648.84 464.50,649.48 465.80,650.25 467.10,648.98 468.40,649.75 469.70,648.99 471.00,649.73 472.30,650.23 473.60,649.12 474.90,648.81 476.20,648.93 477.50,649.66 478.80,648.83 480.10,648.94 481.40,649.59 482.70,650.27 484.00,649.47 485.30,649.44 486.60,649.82 487.90,648.95 489.20,649.73 490.50,649.08 491.80,649.77 493.10,650.33 494.40,648.89 495.70,649.69 497.00,649.77 498.30,649.04 499.60,649.23 500.90,650.39 502.20,650.40 503.50,648.99 504.80,649.93" fill="none" stroke="#1d4f8c" stroke-width="1.2" stroke-linejoin="round"/>
<polyline points="372.00,650.51 373.30,649.23 374.60,649.90 375.90,648.88 377.20,649.46 378.50,650.01 379.80,649.86 381.10,650.19 382.40,648.96 383.70,649.42 385.00,650.36 386.30,649.85 387.60,649.61 388.90,649.52 390.20,650.57 391.50,649.83 392.80,648.83 394.10,650.24 395.40,649.39 396.70,649.58 398.00,649.18 399.30,649.60 400.60,649.38 401.90,648.96 403.20,649.93 404.50,648.99 405.80,650.21 407.10,648.85 408.40,650.21 409.70,650.25 411.00,649.70 412.30,650.08 413.60,649.25 414.90,650.13 416.20,649.57 417.50,649.22 420.00,648.50 424.00,647.50 428.00,646.00 431.00,644.50 433.00,646.50 435.00,646.00 436.60,640.00 437.30,592.00 437.90,591.50 438.60,630.00 439.30,646.00 441.00,646.50 443.00,645.00 445.00,643.50 447.00,645.50 450.00,646.50 453.00,647.50 456.00,648.80 458.00,650.34 459.30,649.32 460.60,649.27 461.90,650.15 463.20,649.26 464.50,649.80 465.80,648.91 467.10,650.12 468.40,649.07 469.70,648.69 471.00,650.36 472.30,648.91 473.60,650.30 474.90,650.38 476.20,649.69 477.50,648.62 478.80,648.71 480.10,648.98 481.40,649.30 482.70,649.70 484.00,650.34 485.30,649.24 486.60,648.85 487.90,649.61 489.20,648.85 490.50,648.76 491.80,649.60 493.10,649.85 494.40,648.72 495.70,649.41 497.00,649.87 498.30,649.98 499.60,649.29 500.90,650.20 502.20,648.90 503.50,649.89 504.80,649.99" fill="none" stroke="#c8193c" stroke-width="1.2" stroke-linejoin="round"/>
<polygon points="436.70,646.00 437.30,592.00 437.90,591.50 438.70,646.00" fill="#c8193c" stroke="none" stroke-width="1"/>
</svg></body></html>
